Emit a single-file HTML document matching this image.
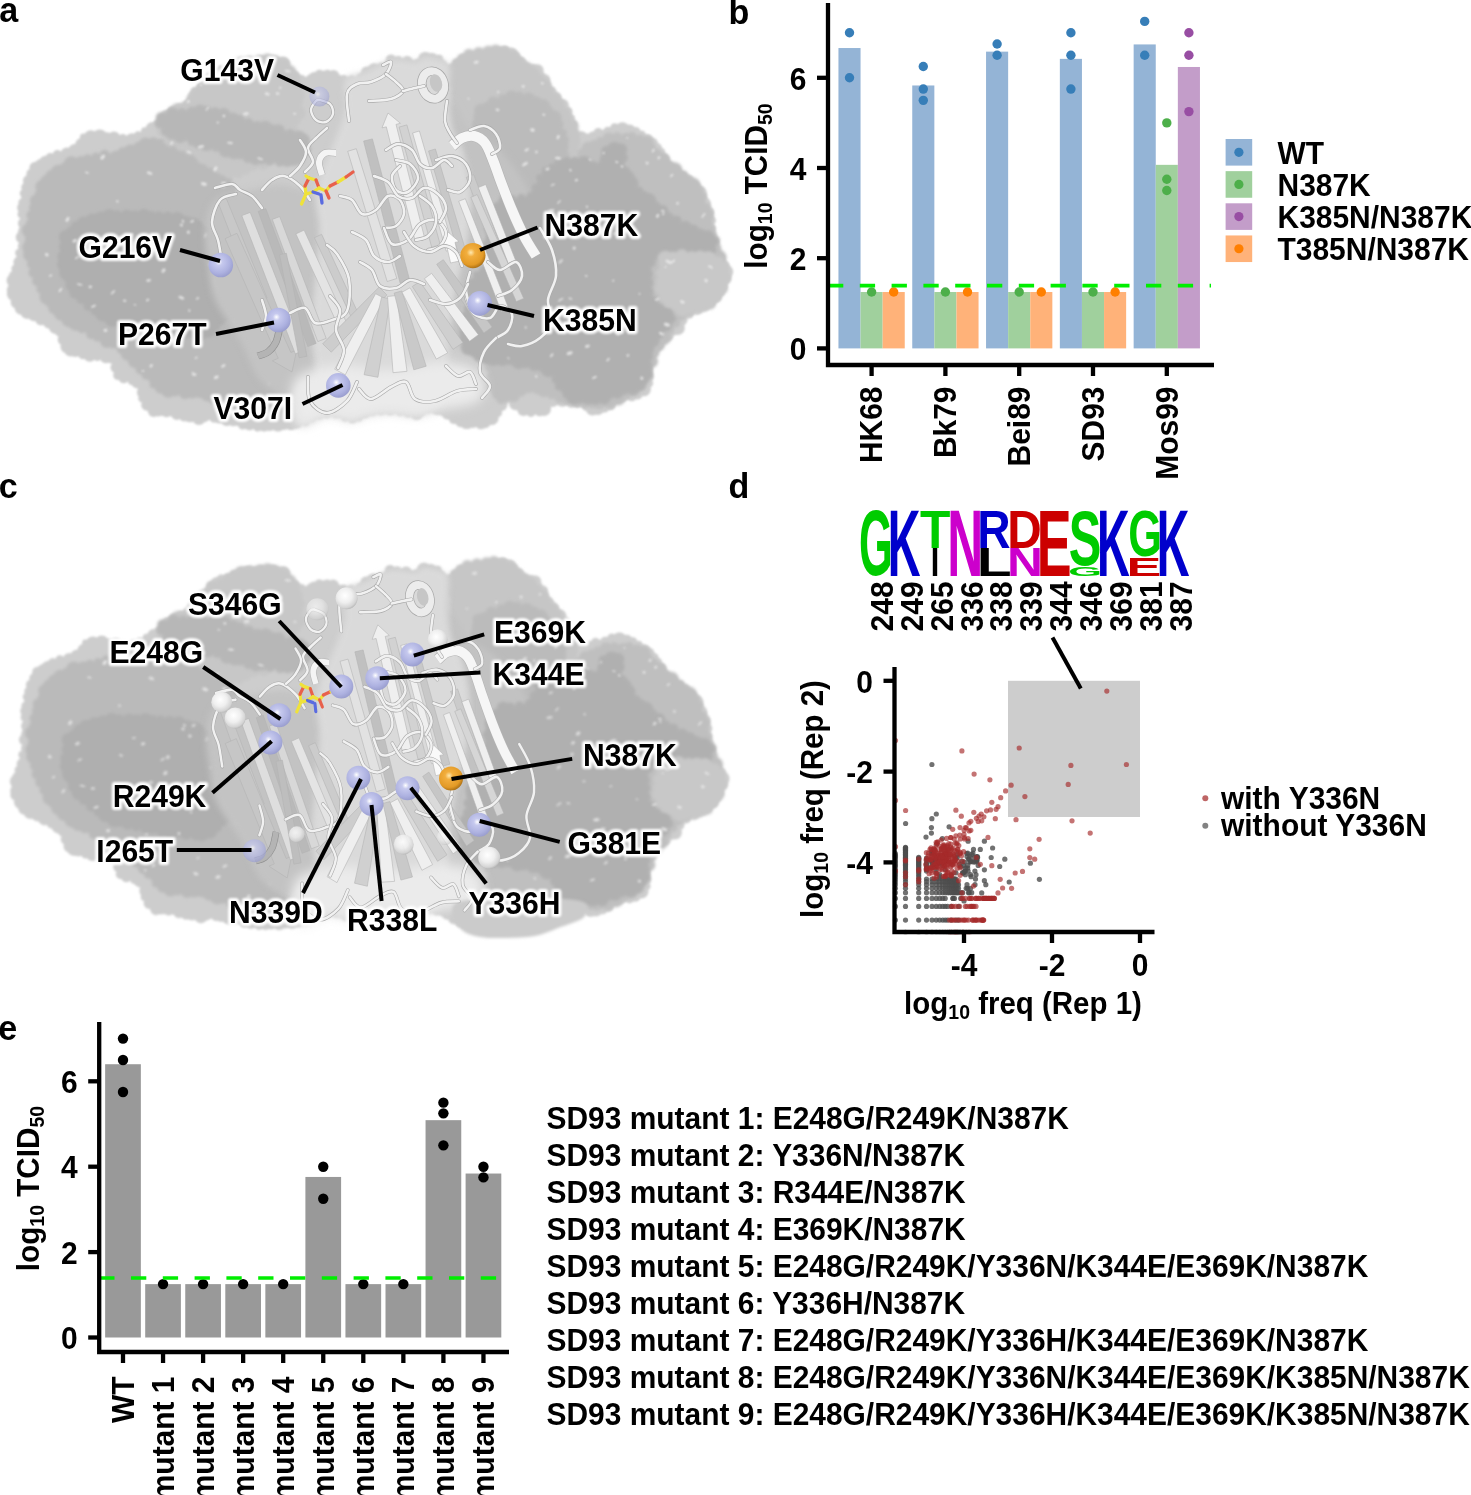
<!DOCTYPE html>
<html><head><meta charset="utf-8"><title>Figure</title>
<style>
html,body{margin:0;padding:0;background:#fff;}
svg{display:block;}
text{font-family:"Liberation Sans",sans-serif;font-weight:bold;fill:#000;}
</style></head><body>
<svg width="1471" height="1495" viewBox="0 0 1471 1495">
<rect width="1471" height="1495" fill="#fff"/>
<defs><filter id="b1" x="-5%" y="-5%" width="110%" height="110%"><feGaussianBlur stdDeviation="1.2"/></filter><filter id="b2" x="-10%" y="-10%" width="120%" height="120%"><feGaussianBlur stdDeviation="1.8"/></filter><filter id="b3" x="-10%" y="-10%" width="120%" height="120%"><feGaussianBlur stdDeviation="3"/></filter><filter id="b6" x="-15%" y="-15%" width="130%" height="130%"><feGaussianBlur stdDeviation="6"/></filter><filter id="glow" x="-20%" y="-40%" width="140%" height="180%"><feGaussianBlur stdDeviation="1.3"/></filter><radialGradient id="gP" cx="0.42" cy="0.38" r="0.65"><stop offset="0" stop-color="#ffffff"/><stop offset="0.22" stop-color="#c6c9ee"/><stop offset="0.7" stop-color="#adb1e0"/><stop offset="1" stop-color="#989ccd"/></radialGradient><radialGradient id="gO" cx="0.42" cy="0.38" r="0.65"><stop offset="0" stop-color="#ffe9b0"/><stop offset="0.25" stop-color="#f2ae3e"/><stop offset="0.75" stop-color="#e39a26"/><stop offset="1" stop-color="#a66c14"/></radialGradient><radialGradient id="gW" cx="0.42" cy="0.38" r="0.65"><stop offset="0" stop-color="#ffffff"/><stop offset="0.5" stop-color="#efefef"/><stop offset="0.85" stop-color="#d4d4d4"/><stop offset="1" stop-color="#b4b4b4"/></radialGradient><clipPath id="silclip"><rect x="0" y="30" width="740" height="420"/></clipPath><g id="surf"><g fill="#cdcdcd" filter="url(#b1)"><path d="M9.0,290.0C7.7,285.0 8.3,287.5 10.0,280.0C11.7,272.5 17.2,257.8 19.0,245.0C20.8,232.2 20.3,212.8 21.0,203.0C21.7,193.2 21.0,192.2 23.0,186.0C25.0,179.8 28.5,171.0 33.0,166.0C37.5,161.0 43.3,159.0 50.0,156.0C56.7,153.0 67.5,151.3 73.0,148.0C78.5,144.7 78.5,138.5 83.0,136.0C87.5,133.5 92.0,133.0 100.0,133.0C108.0,133.0 121.7,137.7 131.0,136.0C140.3,134.3 150.5,127.0 156.0,123.0C161.5,119.0 159.0,115.3 164.0,112.0C169.0,108.7 181.8,106.0 186.0,103.0C190.2,100.0 186.7,97.0 189.0,94.0C191.3,91.0 195.7,88.7 200.0,85.0C204.3,81.3 208.3,76.0 215.0,72.0C221.7,68.0 230.2,63.3 240.0,61.0C249.8,58.7 266.7,58.3 274.0,58.0C281.3,57.7 281.5,57.3 284.0,59.0C286.5,60.7 286.0,64.8 289.0,68.0C292.0,71.2 298.2,77.2 302.0,78.0C305.8,78.8 307.8,74.2 312.0,73.0C316.2,71.8 320.3,70.2 327.0,71.0C333.7,71.8 345.5,78.2 352.0,78.0C358.5,77.8 361.2,72.2 366.0,70.0C370.8,67.8 376.8,67.0 381.0,65.0C385.2,63.0 385.2,58.8 391.0,58.0C396.8,57.2 410.5,60.5 416.0,60.0C421.5,59.5 419.8,55.3 424.0,55.0C428.2,54.7 436.5,56.3 441.0,58.0C445.5,59.7 447.5,65.5 451.0,65.0C454.5,64.5 457.3,56.5 462.0,55.0C466.7,53.5 473.2,57.0 479.0,56.0C484.8,55.0 491.5,50.0 497.0,49.0C502.5,48.0 507.0,47.3 512.0,50.0C517.0,52.7 522.3,62.0 527.0,65.0C531.7,68.0 536.7,65.8 540.0,68.0C543.3,70.2 545.0,74.3 547.0,78.0C549.0,81.7 549.0,85.8 552.0,90.0C555.0,94.2 561.2,97.5 565.0,103.0C568.8,108.5 573.3,118.0 575.0,123.0C576.7,128.0 572.2,131.3 575.0,133.0C577.8,134.7 584.2,134.3 592.0,133.0C599.8,131.7 613.5,125.0 622.0,125.0C630.5,125.0 636.2,128.7 643.0,133.0C649.8,137.3 658.8,146.0 663.0,151.0C667.2,156.0 663.5,158.5 668.0,163.0C672.5,167.5 684.2,173.3 690.0,178.0C695.8,182.7 699.5,185.5 703.0,191.0C706.5,196.5 708.8,203.5 711.0,211.0C713.2,218.5 714.8,229.2 716.0,236.0C717.2,242.8 715.8,246.3 718.0,252.0C720.2,257.7 727.7,264.0 729.0,270.0C730.3,276.0 728.7,282.2 726.0,288.0C723.3,293.8 719.0,300.5 713.0,305.0C707.0,309.5 695.5,310.8 690.0,315.0C684.5,319.2 684.5,325.7 680.0,330.0C675.5,334.3 668.0,335.8 663.0,341.0C658.0,346.2 652.2,354.0 650.0,361.0C647.8,368.0 652.0,377.2 650.0,383.0C648.0,388.8 643.5,393.0 638.0,396.0C632.5,399.0 622.2,398.5 617.0,401.0C611.8,403.5 611.2,409.0 607.0,411.0C602.8,413.0 595.7,413.5 592.0,413.0C588.3,412.5 591.2,409.7 585.0,408.0C578.8,406.3 561.3,402.2 555.0,403.0C548.7,403.8 552.5,411.3 547.0,413.0C541.5,414.7 528.7,415.0 522.0,413.0C515.3,411.0 510.8,401.0 507.0,401.0C503.2,401.0 502.3,408.8 499.0,413.0C495.7,417.2 493.7,424.2 487.0,426.0C480.3,427.8 467.5,426.5 459.0,424.0C450.5,421.5 443.2,412.3 436.0,411.0C428.8,409.7 423.5,415.7 416.0,416.0C408.5,416.3 399.3,413.0 391.0,413.0C382.7,413.0 372.5,414.7 366.0,416.0C359.5,417.3 358.5,421.0 352.0,421.0C345.5,421.0 336.2,415.2 327.0,416.0C317.8,416.8 309.8,424.0 297.0,426.0C284.2,428.0 263.8,429.0 250.0,428.0C236.2,427.0 221.8,421.0 214.0,420.0C206.2,419.0 209.3,422.5 203.0,422.0C196.7,421.5 184.5,418.3 176.0,417.0C167.5,415.7 157.8,416.8 152.0,414.0C146.2,411.2 143.7,404.8 141.0,400.0C138.3,395.2 140.2,388.8 136.0,385.0C131.8,381.2 120.3,381.0 116.0,377.0C111.7,373.0 115.5,364.2 110.0,361.0C104.5,357.8 90.8,360.2 83.0,358.0C75.2,355.8 67.2,352.2 63.0,348.0C58.8,343.8 63.0,338.0 58.0,333.0C53.0,328.0 39.7,321.8 33.0,318.0C26.3,314.2 22.0,314.7 18.0,310.0C14.0,305.3 10.3,295.0 9.0,290.0Z"/><circle cx="12.1" cy="290.0" r="5.3"/><circle cx="13.8" cy="280.5" r="7.2"/><circle cx="14.5" cy="275.8" r="5.5"/><circle cx="15.6" cy="268.8" r="4.2"/><circle cx="19.4" cy="262.3" r="6.0"/><circle cx="19.1" cy="252.8" r="3.9"/><circle cx="21.8" cy="246.1" r="3.9"/><circle cx="22.1" cy="237.3" r="6.3"/><circle cx="25.4" cy="231.9" r="7.4"/><circle cx="24.1" cy="223.2" r="6.1"/><circle cx="21.7" cy="214.3" r="4.1"/><circle cx="22.8" cy="207.7" r="5.6"/><circle cx="22.7" cy="202.5" r="4.3"/><circle cx="23.4" cy="193.3" r="3.6"/><circle cx="26.6" cy="187.6" r="5.3"/><circle cx="28.6" cy="180.7" r="5.6"/><circle cx="31.9" cy="173.9" r="5.5"/><circle cx="34.7" cy="167.4" r="5.3"/><circle cx="41.4" cy="166.5" r="7.5"/><circle cx="45.8" cy="162.7" r="6.9"/><circle cx="50.3" cy="157.8" r="4.8"/><circle cx="57.4" cy="154.7" r="4.7"/><circle cx="67.0" cy="154.1" r="6.6"/><circle cx="75.0" cy="150.8" r="6.9"/><circle cx="82.3" cy="145.1" r="7.3"/><circle cx="83.4" cy="136.9" r="3.5"/><circle cx="90.8" cy="137.4" r="7.1"/><circle cx="99.7" cy="136.8" r="7.4"/><circle cx="106.9" cy="136.1" r="3.8"/><circle cx="113.9" cy="138.2" r="6.6"/><circle cx="122.8" cy="137.9" r="3.8"/><circle cx="132.3" cy="140.6" r="7.4"/><circle cx="138.3" cy="135.2" r="4.0"/><circle cx="144.9" cy="131.2" r="3.9"/><circle cx="152.4" cy="128.8" r="6.7"/><circle cx="158.1" cy="125.1" r="5.7"/><circle cx="162.6" cy="119.2" r="4.3"/><circle cx="165.7" cy="114.1" r="4.0"/><circle cx="171.6" cy="110.7" r="4.0"/><circle cx="179.9" cy="107.6" r="4.4"/><circle cx="189.9" cy="106.2" r="7.4"/><circle cx="192.2" cy="96.2" r="4.7"/><circle cx="195.0" cy="91.3" r="4.3"/><circle cx="202.8" cy="88.3" r="6.9"/><circle cx="207.0" cy="83.6" r="3.9"/><circle cx="210.1" cy="77.6" r="4.4"/><circle cx="216.6" cy="74.6" r="6.6"/><circle cx="220.5" cy="70.2" r="4.7"/><circle cx="227.4" cy="68.0" r="3.9"/><circle cx="234.0" cy="65.7" r="4.5"/><circle cx="240.5" cy="63.6" r="5.0"/><circle cx="247.1" cy="63.8" r="7.3"/><circle cx="255.3" cy="63.1" r="5.8"/><circle cx="261.0" cy="60.0" r="4.2"/><circle cx="269.5" cy="62.9" r="7.1"/><circle cx="273.1" cy="59.7" r="4.5"/><circle cx="283.1" cy="63.0" r="6.5"/><circle cx="288.2" cy="70.5" r="4.3"/><circle cx="293.1" cy="77.2" r="7.0"/><circle cx="301.2" cy="79.9" r="5.2"/><circle cx="313.9" cy="76.0" r="3.7"/><circle cx="319.4" cy="74.2" r="4.5"/><circle cx="327.5" cy="74.2" r="4.5"/><circle cx="333.5" cy="75.8" r="5.9"/><circle cx="344.0" cy="79.2" r="4.2"/><circle cx="351.6" cy="79.4" r="3.8"/><circle cx="362.0" cy="78.3" r="5.7"/><circle cx="367.0" cy="72.4" r="6.0"/><circle cx="374.3" cy="70.5" r="7.2"/><circle cx="381.4" cy="66.2" r="3.6"/><circle cx="391.0" cy="59.7" r="5.3"/><circle cx="398.3" cy="60.2" r="4.2"/><circle cx="407.2" cy="61.8" r="5.8"/><circle cx="417.7" cy="63.6" r="4.9"/><circle cx="425.4" cy="59.3" r="7.4"/><circle cx="432.0" cy="59.3" r="6.3"/><circle cx="438.9" cy="58.9" r="4.1"/><circle cx="451.7" cy="67.9" r="3.6"/><circle cx="459.5" cy="64.1" r="6.3"/><circle cx="463.0" cy="57.2" r="3.6"/><circle cx="470.4" cy="58.8" r="5.4"/><circle cx="480.6" cy="59.8" r="4.8"/><circle cx="489.0" cy="54.6" r="3.8"/><circle cx="498.9" cy="53.4" r="6.4"/><circle cx="504.9" cy="52.2" r="6.4"/><circle cx="511.3" cy="54.3" r="6.7"/><circle cx="515.6" cy="56.7" r="4.9"/><circle cx="520.2" cy="63.9" r="7.1"/><circle cx="526.3" cy="68.2" r="5.2"/><circle cx="533.3" cy="70.7" r="7.0"/><circle cx="537.6" cy="70.2" r="6.0"/><circle cx="544.5" cy="79.9" r="5.8"/><circle cx="547.5" cy="85.0" r="3.8"/><circle cx="549.6" cy="93.4" r="7.5"/><circle cx="555.4" cy="98.2" r="6.4"/><circle cx="562.4" cy="105.4" r="6.4"/><circle cx="567.2" cy="111.7" r="5.3"/><circle cx="571.2" cy="118.3" r="3.8"/><circle cx="573.3" cy="123.5" r="3.6"/><circle cx="571.8" cy="133.9" r="5.4"/><circle cx="581.6" cy="137.6" r="6.3"/><circle cx="593.6" cy="137.2" r="6.0"/><circle cx="598.3" cy="132.4" r="4.5"/><circle cx="608.0" cy="131.4" r="4.7"/><circle cx="614.6" cy="127.6" r="4.3"/><circle cx="622.4" cy="129.3" r="7.1"/><circle cx="629.9" cy="129.8" r="5.3"/><circle cx="635.6" cy="131.7" r="4.8"/><circle cx="641.5" cy="134.8" r="4.3"/><circle cx="647.1" cy="140.8" r="6.7"/><circle cx="651.1" cy="144.3" r="7.0"/><circle cx="656.3" cy="148.5" r="5.8"/><circle cx="661.1" cy="152.1" r="4.0"/><circle cx="662.7" cy="159.5" r="6.8"/><circle cx="666.3" cy="166.2" r="6.3"/><circle cx="670.3" cy="167.9" r="4.6"/><circle cx="676.4" cy="172.4" r="5.3"/><circle cx="683.2" cy="176.1" r="4.4"/><circle cx="688.0" cy="180.6" r="6.0"/><circle cx="696.3" cy="186.9" r="4.8"/><circle cx="699.5" cy="193.2" r="7.4"/><circle cx="703.1" cy="196.7" r="3.8"/><circle cx="704.0" cy="203.9" r="7.0"/><circle cx="707.8" cy="212.1" r="6.3"/><circle cx="711.2" cy="220.5" r="4.7"/><circle cx="711.9" cy="227.6" r="3.6"/><circle cx="712.0" cy="235.2" r="5.3"/><circle cx="712.3" cy="244.3" r="6.8"/><circle cx="714.8" cy="251.7" r="4.1"/><circle cx="718.6" cy="259.6" r="6.0"/><circle cx="723.6" cy="266.0" r="6.0"/><circle cx="726.5" cy="271.8" r="6.7"/><circle cx="724.9" cy="277.8" r="6.2"/><circle cx="722.5" cy="286.1" r="5.4"/><circle cx="721.1" cy="292.9" r="3.5"/><circle cx="715.1" cy="296.8" r="6.4"/><circle cx="711.2" cy="302.5" r="4.6"/><circle cx="704.3" cy="305.5" r="6.3"/><circle cx="696.5" cy="309.1" r="6.0"/><circle cx="688.9" cy="313.6" r="5.1"/><circle cx="680.4" cy="319.3" r="7.1"/><circle cx="677.6" cy="327.9" r="7.2"/><circle cx="673.5" cy="331.6" r="4.0"/><circle cx="667.9" cy="335.0" r="6.0"/><circle cx="661.3" cy="339.2" r="5.0"/><circle cx="655.5" cy="345.3" r="7.0"/><circle cx="649.6" cy="351.8" r="7.3"/><circle cx="646.0" cy="359.5" r="6.1"/><circle cx="646.7" cy="369.4" r="6.4"/><circle cx="647.6" cy="376.9" r="6.1"/><circle cx="648.7" cy="383.2" r="4.4"/><circle cx="643.5" cy="388.9" r="7.4"/><circle cx="637.2" cy="394.0" r="5.6"/><circle cx="631.7" cy="396.5" r="4.8"/><circle cx="622.4" cy="395.2" r="6.9"/><circle cx="615.8" cy="399.0" r="3.8"/><circle cx="610.1" cy="404.6" r="5.7"/><circle cx="604.4" cy="407.2" r="5.4"/><circle cx="597.8" cy="408.2" r="6.7"/><circle cx="592.4" cy="408.7" r="6.7"/><circle cx="586.9" cy="406.3" r="4.8"/><circle cx="578.3" cy="403.4" r="4.1"/><circle cx="571.2" cy="402.1" r="5.6"/><circle cx="562.3" cy="399.9" r="6.9"/><circle cx="552.7" cy="399.7" r="7.3"/><circle cx="543.7" cy="408.8" r="7.3"/><circle cx="539.4" cy="411.8" r="4.4"/><circle cx="530.9" cy="412.3" r="4.7"/><circle cx="523.5" cy="410.0" r="6.1"/><circle cx="515.9" cy="403.4" r="6.9"/><circle cx="506.9" cy="398.1" r="4.7"/><circle cx="500.6" cy="404.3" r="6.9"/><circle cx="497.8" cy="412.7" r="4.3"/><circle cx="491.3" cy="417.7" r="7.4"/><circle cx="484.9" cy="422.4" r="5.8"/><circle cx="480.9" cy="423.7" r="5.6"/><circle cx="472.8" cy="422.2" r="5.9"/><circle cx="466.8" cy="421.7" r="7.4"/><circle cx="460.6" cy="422.1" r="5.1"/><circle cx="454.4" cy="418.3" r="5.8"/><circle cx="447.9" cy="413.2" r="6.3"/><circle cx="442.7" cy="410.3" r="5.7"/><circle cx="437.5" cy="408.0" r="7.3"/><circle cx="428.6" cy="409.1" r="4.6"/><circle cx="422.1" cy="412.0" r="4.0"/><circle cx="416.7" cy="413.3" r="6.8"/><circle cx="408.0" cy="412.0" r="5.4"/><circle cx="400.1" cy="411.8" r="4.3"/><circle cx="390.2" cy="408.2" r="7.2"/><circle cx="380.8" cy="408.7" r="6.6"/><circle cx="372.5" cy="411.7" r="4.3"/><circle cx="364.6" cy="412.3" r="6.2"/><circle cx="358.4" cy="416.7" r="4.9"/><circle cx="352.5" cy="419.4" r="3.9"/><circle cx="345.2" cy="417.4" r="4.0"/><circle cx="335.9" cy="413.8" r="4.5"/><circle cx="326.7" cy="412.8" r="5.6"/><circle cx="319.2" cy="414.8" r="5.0"/><circle cx="311.4" cy="416.9" r="5.6"/><circle cx="305.4" cy="421.8" r="4.3"/><circle cx="296.4" cy="422.8" r="6.1"/><circle cx="290.9" cy="423.3" r="6.9"/><circle cx="283.5" cy="423.0" r="6.9"/><circle cx="278.0" cy="425.1" r="6.5"/><circle cx="269.7" cy="423.9" r="7.1"/><circle cx="264.1" cy="426.8" r="4.8"/><circle cx="257.6" cy="427.1" r="4.4"/><circle cx="249.5" cy="423.3" r="7.1"/><circle cx="242.7" cy="425.0" r="4.5"/><circle cx="233.2" cy="421.7" r="4.5"/><circle cx="226.9" cy="419.2" r="6.8"/><circle cx="219.4" cy="416.7" r="6.7"/><circle cx="214.3" cy="417.6" r="5.1"/><circle cx="202.1" cy="419.3" r="3.6"/><circle cx="198.9" cy="418.8" r="6.2"/><circle cx="190.2" cy="414.9" r="7.4"/><circle cx="184.1" cy="415.9" r="5.5"/><circle cx="176.8" cy="414.4" r="5.5"/><circle cx="166.4" cy="412.9" r="4.3"/><circle cx="158.1" cy="412.5" r="3.9"/><circle cx="153.6" cy="411.3" r="5.7"/><circle cx="147.0" cy="404.9" r="5.8"/><circle cx="142.5" cy="398.4" r="4.2"/><circle cx="143.8" cy="392.1" r="6.9"/><circle cx="138.0" cy="381.4" r="7.2"/><circle cx="131.7" cy="381.3" r="3.7"/><circle cx="123.8" cy="377.9" r="5.3"/><circle cx="118.0" cy="375.3" r="4.8"/><circle cx="116.1" cy="367.4" r="5.6"/><circle cx="111.2" cy="357.6" r="5.9"/><circle cx="105.9" cy="356.9" r="6.3"/><circle cx="97.4" cy="356.7" r="4.2"/><circle cx="89.8" cy="355.2" r="6.5"/><circle cx="82.8" cy="354.9" r="4.3"/><circle cx="75.3" cy="351.4" r="5.6"/><circle cx="71.0" cy="349.4" r="7.1"/><circle cx="66.8" cy="346.9" r="6.3"/><circle cx="63.7" cy="339.5" r="6.0"/><circle cx="60.7" cy="331.2" r="5.9"/><circle cx="55.9" cy="326.4" r="7.4"/><circle cx="48.3" cy="323.9" r="4.5"/><circle cx="41.4" cy="318.8" r="6.5"/><circle cx="34.4" cy="314.4" r="6.8"/><circle cx="27.2" cy="311.8" r="7.1"/><circle cx="21.1" cy="308.2" r="6.3"/><circle cx="17.2" cy="302.0" r="6.6"/><circle cx="13.3" cy="294.1" r="6.4"/></g><g clip-path="url(#silclip)"><g fill="#bababa" filter="url(#b2)" opacity="1"><path d="M30.0,215.0C32.8,202.5 36.7,189.2 45.0,180.0C53.3,170.8 65.8,165.0 80.0,160.0C94.2,155.0 116.7,153.3 130.0,150.0C143.3,146.7 148.3,140.0 160.0,140.0C171.7,140.0 188.3,143.3 200.0,150.0C211.7,156.7 224.2,169.2 230.0,180.0C235.8,190.8 237.5,205.0 235.0,215.0C232.5,225.0 219.2,229.2 215.0,240.0C210.8,250.8 208.3,270.0 210.0,280.0C211.7,290.0 218.3,291.7 225.0,300.0C231.7,308.3 242.5,320.0 250.0,330.0C257.5,340.0 263.3,350.0 270.0,360.0C276.7,370.0 288.3,381.7 290.0,390.0C291.7,398.3 290.0,407.5 280.0,410.0C270.0,412.5 243.3,407.5 230.0,405.0C216.7,402.5 211.7,397.5 200.0,395.0C188.3,392.5 170.0,394.2 160.0,390.0C150.0,385.8 146.7,376.7 140.0,370.0C133.3,363.3 128.3,355.8 120.0,350.0C111.7,344.2 100.0,340.8 90.0,335.0C80.0,329.2 68.3,322.5 60.0,315.0C51.7,307.5 45.3,300.0 40.0,290.0C34.7,280.0 29.7,267.5 28.0,255.0C26.3,242.5 27.2,227.5 30.0,215.0Z"/><circle cx="31.4" cy="215.2" r="5.0"/><circle cx="32.5" cy="207.4" r="3.5"/><circle cx="36.2" cy="200.8" r="6.4"/><circle cx="39.2" cy="194.3" r="4.5"/><circle cx="41.8" cy="186.6" r="6.5"/><circle cx="46.6" cy="181.5" r="6.5"/><circle cx="51.3" cy="176.0" r="5.9"/><circle cx="58.4" cy="172.8" r="8.0"/><circle cx="65.5" cy="169.0" r="6.7"/><circle cx="71.5" cy="164.2" r="7.9"/><circle cx="81.2" cy="162.4" r="6.3"/><circle cx="87.8" cy="158.9" r="4.7"/><circle cx="95.8" cy="156.3" r="3.7"/><circle cx="104.6" cy="154.9" r="5.2"/><circle cx="115.5" cy="155.3" r="4.6"/><circle cx="123.0" cy="153.3" r="6.0"/><circle cx="130.8" cy="152.4" r="7.9"/><circle cx="139.9" cy="149.6" r="8.0"/><circle cx="145.5" cy="144.7" r="7.1"/><circle cx="153.4" cy="143.5" r="6.2"/><circle cx="161.1" cy="142.1" r="3.7"/><circle cx="167.3" cy="141.6" r="4.2"/><circle cx="175.5" cy="142.8" r="4.3"/><circle cx="182.7" cy="144.3" r="6.3"/><circle cx="191.4" cy="148.4" r="7.8"/><circle cx="199.4" cy="151.8" r="5.9"/><circle cx="205.6" cy="155.4" r="5.1"/><circle cx="212.8" cy="161.9" r="6.4"/><circle cx="219.7" cy="168.2" r="4.8"/><circle cx="223.4" cy="173.0" r="4.8"/><circle cx="227.7" cy="179.5" r="4.6"/><circle cx="233.0" cy="189.6" r="4.2"/><circle cx="235.0" cy="199.0" r="5.3"/><circle cx="233.0" cy="205.7" r="6.9"/><circle cx="233.8" cy="215.3" r="7.9"/><circle cx="231.5" cy="221.9" r="3.8"/><circle cx="224.4" cy="226.0" r="5.4"/><circle cx="217.1" cy="230.8" r="7.9"/><circle cx="214.5" cy="240.3" r="5.9"/><circle cx="210.7" cy="246.8" r="6.8"/><circle cx="209.4" cy="256.3" r="7.9"/><circle cx="207.1" cy="263.6" r="6.2"/><circle cx="207.5" cy="273.0" r="6.3"/><circle cx="207.6" cy="279.2" r="4.4"/><circle cx="210.8" cy="287.8" r="5.9"/><circle cx="217.7" cy="294.9" r="5.5"/><circle cx="223.2" cy="300.5" r="5.5"/><circle cx="227.8" cy="306.4" r="6.1"/><circle cx="233.0" cy="312.7" r="7.0"/><circle cx="239.1" cy="320.2" r="8.0"/><circle cx="242.9" cy="324.5" r="6.8"/><circle cx="250.0" cy="331.7" r="4.0"/><circle cx="253.9" cy="339.0" r="7.0"/><circle cx="258.5" cy="345.3" r="5.1"/><circle cx="263.6" cy="353.7" r="6.6"/><circle cx="268.8" cy="361.4" r="6.2"/><circle cx="273.3" cy="368.2" r="6.9"/><circle cx="281.9" cy="377.6" r="4.6"/><circle cx="286.0" cy="385.2" r="7.6"/><circle cx="287.9" cy="389.1" r="3.7"/><circle cx="287.9" cy="401.4" r="4.7"/><circle cx="278.1" cy="407.4" r="6.3"/><circle cx="272.7" cy="407.9" r="5.9"/><circle cx="266.1" cy="409.6" r="3.9"/><circle cx="256.8" cy="407.9" r="6.0"/><circle cx="246.9" cy="406.4" r="5.2"/><circle cx="237.5" cy="404.7" r="4.4"/><circle cx="231.3" cy="403.8" r="6.9"/><circle cx="220.8" cy="400.7" r="3.8"/><circle cx="215.5" cy="398.3" r="7.1"/><circle cx="207.7" cy="394.6" r="7.0"/><circle cx="199.8" cy="392.8" r="5.4"/><circle cx="192.2" cy="391.5" r="7.1"/><circle cx="185.1" cy="392.6" r="6.4"/><circle cx="175.3" cy="391.5" r="5.0"/><circle cx="168.3" cy="390.9" r="6.9"/><circle cx="160.4" cy="388.2" r="5.4"/><circle cx="153.5" cy="384.5" r="3.9"/><circle cx="145.8" cy="375.5" r="3.9"/><circle cx="141.3" cy="368.8" r="6.0"/><circle cx="134.7" cy="361.3" r="6.6"/><circle cx="127.8" cy="353.8" r="7.0"/><circle cx="121.2" cy="349.3" r="4.5"/><circle cx="113.3" cy="344.5" r="3.9"/><circle cx="106.9" cy="341.1" r="6.8"/><circle cx="97.5" cy="336.8" r="4.8"/><circle cx="91.3" cy="334.2" r="5.1"/><circle cx="82.1" cy="328.2" r="5.1"/><circle cx="75.6" cy="324.1" r="6.7"/><circle cx="69.2" cy="319.7" r="7.6"/><circle cx="61.4" cy="313.1" r="7.6"/><circle cx="55.2" cy="307.4" r="7.1"/><circle cx="49.8" cy="302.3" r="4.9"/><circle cx="47.1" cy="296.7" r="7.7"/><circle cx="40.9" cy="289.0" r="4.6"/><circle cx="37.2" cy="281.1" r="5.1"/><circle cx="33.8" cy="272.6" r="5.3"/><circle cx="31.3" cy="264.2" r="4.4"/><circle cx="30.2" cy="254.8" r="7.1"/><circle cx="29.6" cy="247.3" r="7.3"/><circle cx="29.1" cy="239.8" r="4.3"/><circle cx="29.3" cy="230.5" r="7.5"/><circle cx="29.6" cy="223.0" r="3.6"/></g><g fill="#c7c7c7" filter="url(#b2)" opacity="1"><path d="M165.0,120.0C169.2,113.3 184.2,105.8 190.0,100.0C195.8,94.2 191.7,91.3 200.0,85.0C208.3,78.7 227.5,66.2 240.0,62.0C252.5,57.8 266.7,58.7 275.0,60.0C283.3,61.3 285.8,64.2 290.0,70.0C294.2,75.8 299.2,85.0 300.0,95.0C300.8,105.0 300.0,119.2 295.0,130.0C290.0,140.8 280.8,152.5 270.0,160.0C259.2,167.5 243.3,176.7 230.0,175.0C216.7,173.3 200.8,155.8 190.0,150.0C179.2,144.2 169.2,145.0 165.0,140.0C160.8,135.0 160.8,126.7 165.0,120.0Z"/><circle cx="166.8" cy="121.0" r="5.9"/><circle cx="171.8" cy="117.0" r="7.8"/><circle cx="177.1" cy="110.4" r="7.1"/><circle cx="186.0" cy="106.8" r="6.0"/><circle cx="189.9" cy="99.7" r="3.9"/><circle cx="196.7" cy="94.8" r="6.8"/><circle cx="201.2" cy="86.1" r="3.9"/><circle cx="206.3" cy="83.0" r="4.1"/><circle cx="211.7" cy="78.2" r="6.4"/><circle cx="219.8" cy="74.5" r="4.5"/><circle cx="227.4" cy="70.6" r="5.8"/><circle cx="233.5" cy="65.8" r="5.3"/><circle cx="241.1" cy="64.7" r="7.9"/><circle cx="249.9" cy="61.5" r="5.7"/><circle cx="259.6" cy="61.5" r="6.7"/><circle cx="267.4" cy="61.2" r="7.6"/><circle cx="274.9" cy="62.5" r="7.2"/><circle cx="283.6" cy="65.9" r="7.3"/><circle cx="289.2" cy="72.2" r="7.3"/><circle cx="292.5" cy="78.3" r="7.8"/><circle cx="296.8" cy="86.4" r="5.9"/><circle cx="297.7" cy="95.1" r="7.1"/><circle cx="297.8" cy="102.3" r="5.4"/><circle cx="298.8" cy="113.1" r="6.8"/><circle cx="295.7" cy="120.2" r="5.2"/><circle cx="293.6" cy="129.3" r="4.4"/><circle cx="291.4" cy="136.9" r="4.8"/><circle cx="285.8" cy="141.9" r="3.8"/><circle cx="281.5" cy="148.9" r="4.0"/><circle cx="274.1" cy="152.7" r="7.0"/><circle cx="269.2" cy="159.0" r="3.8"/><circle cx="263.0" cy="164.0" r="6.1"/><circle cx="253.7" cy="167.1" r="3.7"/><circle cx="245.6" cy="170.7" r="4.3"/><circle cx="238.6" cy="174.0" r="4.6"/><circle cx="229.6" cy="172.5" r="6.2"/><circle cx="223.1" cy="171.3" r="4.3"/><circle cx="217.4" cy="168.6" r="4.3"/><circle cx="210.1" cy="163.0" r="4.9"/><circle cx="203.5" cy="157.0" r="7.2"/><circle cx="197.5" cy="153.5" r="4.7"/><circle cx="190.6" cy="147.6" r="7.6"/><circle cx="181.3" cy="145.3" r="6.0"/><circle cx="170.9" cy="141.3" r="5.7"/><circle cx="167.0" cy="140.4" r="3.7"/><circle cx="163.7" cy="130.3" r="7.1"/></g><g fill="#b7b7b7" filter="url(#b2)" opacity="1"><path d="M160.0,117.0C165.8,113.2 186.7,108.8 200.0,109.0C213.3,109.2 226.7,114.5 240.0,118.0C253.3,121.5 269.2,126.3 280.0,130.0C290.8,133.7 301.7,135.0 305.0,140.0C308.3,145.0 307.2,156.3 300.0,160.0C292.8,163.7 274.5,163.3 262.0,162.0C249.5,160.7 237.0,155.3 225.0,152.0C213.0,148.7 200.0,145.3 190.0,142.0C180.0,138.7 170.0,136.2 165.0,132.0C160.0,127.8 154.2,120.8 160.0,117.0Z"/><circle cx="161.5" cy="118.0" r="5.9"/><circle cx="166.8" cy="117.2" r="4.7"/><circle cx="172.6" cy="113.7" r="6.5"/><circle cx="181.9" cy="111.6" r="3.5"/><circle cx="192.1" cy="111.7" r="5.2"/><circle cx="200.2" cy="111.3" r="6.7"/><circle cx="207.0" cy="110.1" r="4.2"/><circle cx="215.1" cy="112.1" r="4.9"/><circle cx="223.4" cy="115.5" r="7.4"/><circle cx="232.7" cy="118.8" r="6.4"/><circle cx="239.7" cy="119.4" r="4.7"/><circle cx="248.6" cy="122.1" r="4.2"/><circle cx="257.2" cy="124.5" r="3.5"/><circle cx="265.2" cy="128.1" r="7.3"/><circle cx="272.1" cy="128.2" r="3.9"/><circle cx="278.4" cy="131.0" r="6.7"/><circle cx="290.0" cy="134.7" r="5.7"/><circle cx="298.6" cy="138.3" r="7.8"/><circle cx="302.5" cy="140.5" r="7.4"/><circle cx="304.2" cy="149.8" r="7.1"/><circle cx="297.5" cy="157.4" r="7.6"/><circle cx="293.4" cy="158.9" r="7.2"/><circle cx="287.1" cy="161.0" r="5.9"/><circle cx="279.5" cy="162.5" r="4.2"/><circle cx="269.7" cy="160.7" r="4.9"/><circle cx="261.7" cy="160.4" r="3.8"/><circle cx="255.4" cy="159.6" r="5.6"/><circle cx="247.9" cy="157.8" r="5.1"/><circle cx="239.7" cy="155.2" r="4.0"/><circle cx="233.9" cy="153.7" r="5.6"/><circle cx="226.0" cy="150.3" r="7.2"/><circle cx="215.9" cy="148.2" r="3.6"/><circle cx="206.7" cy="144.4" r="6.7"/><circle cx="198.4" cy="142.7" r="6.0"/><circle cx="191.5" cy="142.2" r="3.5"/><circle cx="180.2" cy="136.1" r="7.1"/><circle cx="171.8" cy="133.5" r="6.3"/><circle cx="166.1" cy="130.9" r="5.2"/><circle cx="159.4" cy="123.5" r="4.8"/></g><g fill="#afafaf" filter="url(#b2)" opacity="1"><path d="M70.0,230.0C78.0,221.7 95.0,217.5 110.0,215.0C125.0,212.5 145.0,213.3 160.0,215.0C175.0,216.7 190.8,219.2 200.0,225.0C209.2,230.8 213.0,239.2 215.0,250.0C217.0,260.8 210.3,279.2 212.0,290.0C213.7,300.8 227.0,307.5 225.0,315.0C223.0,322.5 212.5,332.5 200.0,335.0C187.5,337.5 165.0,332.5 150.0,330.0C135.0,327.5 121.7,325.0 110.0,320.0C98.3,315.0 88.0,309.2 80.0,300.0C72.0,290.8 63.7,276.7 62.0,265.0C60.3,253.3 62.0,238.3 70.0,230.0Z"/><circle cx="71.6" cy="231.5" r="5.3"/><circle cx="75.8" cy="225.9" r="4.7"/><circle cx="83.6" cy="223.3" r="6.8"/><circle cx="92.5" cy="221.3" r="7.8"/><circle cx="100.9" cy="218.3" r="6.8"/><circle cx="109.4" cy="216.2" r="7.2"/><circle cx="117.0" cy="214.3" r="4.1"/><circle cx="126.9" cy="216.0" r="6.5"/><circle cx="134.8" cy="214.5" r="4.3"/><circle cx="143.8" cy="216.1" r="7.3"/><circle cx="151.4" cy="214.8" r="3.9"/><circle cx="159.0" cy="215.4" r="4.2"/><circle cx="167.8" cy="216.7" r="5.3"/><circle cx="177.3" cy="219.6" r="7.6"/><circle cx="186.2" cy="221.5" r="5.8"/><circle cx="193.7" cy="224.6" r="7.0"/><circle cx="198.7" cy="225.9" r="5.2"/><circle cx="205.1" cy="231.5" r="5.4"/><circle cx="211.3" cy="241.1" r="5.3"/><circle cx="213.4" cy="251.1" r="7.9"/><circle cx="213.6" cy="257.5" r="6.5"/><circle cx="212.9" cy="265.1" r="3.6"/><circle cx="211.8" cy="274.5" r="5.0"/><circle cx="210.4" cy="282.4" r="4.0"/><circle cx="211.0" cy="291.2" r="5.8"/><circle cx="215.0" cy="301.0" r="7.2"/><circle cx="222.4" cy="308.8" r="4.2"/><circle cx="222.9" cy="315.0" r="7.6"/><circle cx="220.8" cy="320.0" r="5.1"/><circle cx="216.2" cy="326.4" r="4.1"/><circle cx="207.9" cy="329.8" r="7.9"/><circle cx="200.3" cy="333.8" r="6.7"/><circle cx="194.0" cy="335.4" r="4.4"/><circle cx="184.2" cy="332.8" r="6.3"/><circle cx="175.5" cy="332.6" r="3.9"/><circle cx="167.6" cy="331.6" r="6.1"/><circle cx="159.3" cy="331.0" r="5.0"/><circle cx="150.2" cy="328.4" r="5.1"/><circle cx="142.6" cy="328.4" r="4.1"/><circle cx="134.0" cy="326.6" r="4.1"/><circle cx="125.4" cy="323.4" r="5.9"/><circle cx="117.2" cy="320.4" r="6.0"/><circle cx="112.1" cy="319.1" r="7.6"/><circle cx="102.7" cy="314.4" r="7.2"/><circle cx="95.1" cy="311.3" r="4.1"/><circle cx="88.3" cy="306.1" r="4.8"/><circle cx="81.2" cy="299.3" r="4.6"/><circle cx="76.2" cy="291.9" r="7.2"/><circle cx="71.2" cy="285.1" r="6.0"/><circle cx="67.0" cy="278.5" r="3.6"/><circle cx="67.1" cy="272.6" r="7.9"/><circle cx="63.5" cy="264.3" r="6.5"/><circle cx="63.9" cy="256.4" r="6.5"/><circle cx="64.1" cy="246.8" r="5.2"/><circle cx="65.9" cy="237.1" r="7.1"/></g><g fill="#c6c6c6" filter="url(#b2)" opacity="1"><path d="M455.0,62.0C462.0,53.7 485.0,49.3 497.0,50.0C509.0,50.7 518.2,59.3 527.0,66.0C535.8,72.7 542.3,80.2 550.0,90.0C557.7,99.8 568.8,113.3 573.0,125.0C577.2,136.7 577.2,147.5 575.0,160.0C572.8,172.5 565.8,188.3 560.0,200.0C554.2,211.7 546.7,230.0 540.0,230.0C533.3,230.0 526.7,213.3 520.0,200.0C513.3,186.7 508.3,161.7 500.0,150.0C491.7,138.3 477.5,138.3 470.0,130.0C462.5,121.7 457.5,111.3 455.0,100.0C452.5,88.7 448.0,70.3 455.0,62.0Z"/><circle cx="455.9" cy="62.8" r="4.4"/><circle cx="461.2" cy="58.3" r="4.1"/><circle cx="469.1" cy="54.9" r="6.1"/><circle cx="478.8" cy="52.7" r="5.8"/><circle cx="488.4" cy="51.6" r="6.1"/><circle cx="495.7" cy="50.8" r="6.4"/><circle cx="504.0" cy="52.8" r="6.5"/><circle cx="512.2" cy="58.0" r="7.8"/><circle cx="519.1" cy="61.9" r="5.6"/><circle cx="526.3" cy="67.9" r="6.3"/><circle cx="532.5" cy="73.3" r="6.9"/><circle cx="538.9" cy="79.2" r="5.7"/><circle cx="543.6" cy="85.3" r="7.3"/><circle cx="548.6" cy="90.8" r="5.3"/><circle cx="554.5" cy="98.4" r="6.0"/><circle cx="558.8" cy="104.3" r="5.9"/><circle cx="564.9" cy="112.3" r="5.4"/><circle cx="567.4" cy="117.4" r="4.9"/><circle cx="572.0" cy="126.6" r="6.8"/><circle cx="573.6" cy="134.3" r="6.8"/><circle cx="573.8" cy="141.8" r="6.9"/><circle cx="573.3" cy="149.7" r="6.2"/><circle cx="573.7" cy="159.7" r="4.1"/><circle cx="571.3" cy="167.1" r="5.8"/><circle cx="569.9" cy="176.2" r="3.7"/><circle cx="564.9" cy="183.2" r="5.9"/><circle cx="562.0" cy="191.7" r="4.9"/><circle cx="557.7" cy="198.4" r="4.6"/><circle cx="554.4" cy="209.7" r="7.6"/><circle cx="549.5" cy="219.3" r="6.5"/><circle cx="544.7" cy="226.6" r="5.4"/><circle cx="540.6" cy="229.2" r="4.5"/><circle cx="537.3" cy="226.9" r="6.1"/><circle cx="531.7" cy="220.1" r="3.9"/><circle cx="526.2" cy="209.9" r="4.1"/><circle cx="520.9" cy="197.8" r="7.8"/><circle cx="518.0" cy="192.7" r="4.6"/><circle cx="514.9" cy="184.8" r="5.0"/><circle cx="514.9" cy="178.4" r="7.5"/><circle cx="510.4" cy="169.5" r="5.3"/><circle cx="507.1" cy="160.9" r="6.1"/><circle cx="505.3" cy="156.2" r="3.6"/><circle cx="501.1" cy="149.1" r="4.9"/><circle cx="495.4" cy="142.4" r="7.7"/><circle cx="484.7" cy="136.5" r="5.6"/><circle cx="478.4" cy="134.8" r="4.8"/><circle cx="470.9" cy="127.7" r="7.5"/><circle cx="466.3" cy="121.8" r="7.3"/><circle cx="461.3" cy="114.6" r="5.6"/><circle cx="460.6" cy="108.7" r="7.5"/><circle cx="456.6" cy="100.0" r="4.4"/><circle cx="455.6" cy="93.2" r="4.4"/><circle cx="452.1" cy="83.0" r="3.7"/><circle cx="452.8" cy="75.3" r="6.8"/><circle cx="455.1" cy="69.5" r="7.6"/></g><g fill="#bbbbbb" filter="url(#b2)" opacity="1"><path d="M480.0,110.0C486.7,102.5 508.3,95.0 520.0,95.0C531.7,95.0 542.5,102.5 550.0,110.0C557.5,117.5 563.3,128.3 565.0,140.0C566.7,151.7 565.8,170.0 560.0,180.0C554.2,190.0 539.2,201.7 530.0,200.0C520.8,198.3 513.3,180.0 505.0,170.0C496.7,160.0 484.2,150.0 480.0,140.0C475.8,130.0 473.3,117.5 480.0,110.0Z"/><circle cx="480.7" cy="110.4" r="6.7"/><circle cx="487.7" cy="108.3" r="6.6"/><circle cx="493.2" cy="102.0" r="5.5"/><circle cx="502.7" cy="98.9" r="4.5"/><circle cx="511.6" cy="97.1" r="6.7"/><circle cx="519.3" cy="95.7" r="4.3"/><circle cx="528.7" cy="98.9" r="6.5"/><circle cx="536.2" cy="101.4" r="5.2"/><circle cx="542.6" cy="106.5" r="7.5"/><circle cx="548.6" cy="110.5" r="4.5"/><circle cx="553.8" cy="118.0" r="7.7"/><circle cx="558.8" cy="124.4" r="4.7"/><circle cx="563.1" cy="133.0" r="3.9"/><circle cx="563.4" cy="140.3" r="5.5"/><circle cx="562.8" cy="146.7" r="5.9"/><circle cx="563.3" cy="155.6" r="6.2"/><circle cx="564.1" cy="165.5" r="4.6"/><circle cx="561.3" cy="172.3" r="3.9"/><circle cx="557.6" cy="178.3" r="6.9"/><circle cx="553.2" cy="186.7" r="4.8"/><circle cx="546.5" cy="194.3" r="4.3"/><circle cx="535.8" cy="195.6" r="7.9"/><circle cx="530.8" cy="198.9" r="5.6"/><circle cx="526.7" cy="197.0" r="5.2"/><circle cx="520.2" cy="189.8" r="5.7"/><circle cx="516.6" cy="183.8" r="6.0"/><circle cx="511.6" cy="176.3" r="5.1"/><circle cx="506.7" cy="168.7" r="7.0"/><circle cx="501.7" cy="163.6" r="5.8"/><circle cx="495.3" cy="156.7" r="6.6"/><circle cx="489.2" cy="149.7" r="7.8"/><circle cx="484.3" cy="144.0" r="7.0"/><circle cx="481.1" cy="138.6" r="6.2"/><circle cx="479.6" cy="132.4" r="5.5"/><circle cx="478.7" cy="124.7" r="7.0"/><circle cx="477.9" cy="116.8" r="4.6"/></g><g fill="#bfbfbf" filter="url(#b2)" opacity="1"><path d="M540.0,215.0C542.5,197.5 550.0,187.5 560.0,175.0C570.0,162.5 586.7,146.3 600.0,140.0C613.3,133.7 629.2,133.7 640.0,137.0C650.8,140.3 655.0,151.2 665.0,160.0C675.0,168.8 692.2,178.3 700.0,190.0C707.8,201.7 708.3,217.5 712.0,230.0C715.7,242.5 721.5,254.2 722.0,265.0C722.5,275.8 720.3,287.2 715.0,295.0C709.7,302.8 698.3,304.8 690.0,312.0C681.7,319.2 671.7,328.3 665.0,338.0C658.3,347.7 655.0,361.0 650.0,370.0C645.0,379.0 643.3,386.2 635.0,392.0C626.7,397.8 612.5,403.7 600.0,405.0C587.5,406.3 571.7,402.5 560.0,400.0C548.3,397.5 540.0,390.0 530.0,390.0C520.0,390.0 506.7,405.0 500.0,400.0C493.3,395.0 486.7,371.7 490.0,360.0C493.3,348.3 510.8,343.3 520.0,330.0C529.2,316.7 541.7,299.2 545.0,280.0C548.3,260.8 537.5,232.5 540.0,215.0Z"/><circle cx="541.5" cy="215.4" r="4.5"/><circle cx="542.6" cy="204.7" r="5.7"/><circle cx="547.4" cy="198.2" r="6.2"/><circle cx="551.8" cy="191.3" r="6.1"/><circle cx="554.5" cy="182.2" r="4.3"/><circle cx="560.8" cy="175.7" r="3.6"/><circle cx="565.8" cy="170.4" r="5.5"/><circle cx="571.7" cy="165.4" r="4.7"/><circle cx="577.5" cy="159.8" r="3.8"/><circle cx="583.1" cy="154.0" r="6.1"/><circle cx="588.6" cy="148.6" r="7.1"/><circle cx="594.3" cy="143.9" r="4.2"/><circle cx="600.0" cy="140.6" r="3.7"/><circle cx="608.8" cy="138.8" r="6.3"/><circle cx="617.1" cy="136.9" r="4.7"/><circle cx="625.8" cy="136.7" r="3.9"/><circle cx="632.2" cy="136.1" r="4.3"/><circle cx="640.0" cy="138.6" r="4.2"/><circle cx="646.5" cy="143.2" r="7.2"/><circle cx="651.8" cy="147.0" r="3.8"/><circle cx="656.6" cy="153.5" r="5.1"/><circle cx="662.3" cy="160.6" r="7.9"/><circle cx="670.1" cy="166.5" r="5.7"/><circle cx="674.5" cy="170.2" r="7.9"/><circle cx="682.9" cy="175.8" r="5.5"/><circle cx="688.3" cy="179.2" r="3.7"/><circle cx="692.9" cy="185.0" r="7.5"/><circle cx="698.2" cy="190.4" r="5.3"/><circle cx="701.4" cy="197.1" r="5.4"/><circle cx="706.7" cy="207.0" r="3.7"/><circle cx="707.0" cy="214.9" r="6.9"/><circle cx="708.2" cy="221.9" r="4.5"/><circle cx="709.7" cy="229.9" r="6.0"/><circle cx="714.5" cy="240.8" r="5.6"/><circle cx="716.3" cy="248.2" r="5.1"/><circle cx="718.7" cy="257.5" r="7.9"/><circle cx="720.7" cy="264.8" r="3.7"/><circle cx="718.9" cy="271.9" r="6.4"/><circle cx="719.7" cy="281.3" r="5.0"/><circle cx="716.6" cy="287.9" r="7.4"/><circle cx="713.1" cy="293.6" r="7.5"/><circle cx="709.9" cy="299.5" r="5.3"/><circle cx="703.5" cy="303.1" r="5.2"/><circle cx="695.6" cy="305.9" r="4.5"/><circle cx="689.3" cy="311.1" r="4.3"/><circle cx="681.9" cy="316.1" r="4.2"/><circle cx="675.8" cy="323.0" r="4.5"/><circle cx="669.3" cy="329.8" r="4.9"/><circle cx="663.4" cy="337.1" r="8.0"/><circle cx="657.9" cy="344.1" r="7.4"/><circle cx="654.4" cy="352.6" r="5.2"/><circle cx="651.4" cy="361.4" r="6.6"/><circle cx="647.6" cy="368.2" r="4.7"/><circle cx="644.0" cy="377.2" r="4.3"/><circle cx="641.3" cy="385.7" r="5.3"/><circle cx="633.2" cy="389.9" r="6.7"/><circle cx="626.2" cy="394.1" r="5.1"/><circle cx="617.9" cy="397.7" r="7.7"/><circle cx="609.6" cy="401.7" r="6.9"/><circle cx="598.6" cy="401.6" r="7.6"/><circle cx="591.9" cy="403.5" r="4.9"/><circle cx="584.9" cy="404.3" r="3.9"/><circle cx="576.4" cy="402.4" r="5.0"/><circle cx="566.7" cy="398.8" r="5.8"/><circle cx="559.8" cy="397.8" r="5.3"/><circle cx="551.4" cy="395.5" r="3.7"/><circle cx="544.0" cy="391.2" r="6.2"/><circle cx="537.5" cy="389.6" r="4.9"/><circle cx="529.0" cy="387.3" r="5.9"/><circle cx="520.7" cy="389.8" r="6.7"/><circle cx="513.2" cy="395.5" r="6.8"/><circle cx="505.1" cy="398.6" r="4.2"/><circle cx="501.2" cy="399.3" r="4.8"/><circle cx="497.2" cy="394.0" r="5.3"/><circle cx="494.1" cy="385.7" r="7.4"/><circle cx="491.2" cy="377.0" r="4.8"/><circle cx="489.4" cy="367.0" r="4.5"/><circle cx="491.3" cy="360.6" r="3.6"/><circle cx="495.7" cy="355.6" r="6.0"/><circle cx="500.4" cy="349.6" r="7.9"/><circle cx="508.6" cy="345.5" r="6.5"/><circle cx="515.1" cy="338.5" r="4.5"/><circle cx="522.6" cy="332.3" r="6.5"/><circle cx="525.3" cy="324.6" r="7.4"/><circle cx="529.0" cy="317.7" r="6.3"/><circle cx="533.8" cy="311.3" r="5.4"/><circle cx="535.4" cy="302.7" r="3.8"/><circle cx="541.6" cy="296.5" r="5.0"/><circle cx="543.6" cy="287.7" r="4.8"/><circle cx="546.5" cy="280.2" r="5.3"/><circle cx="547.3" cy="272.8" r="4.3"/><circle cx="545.7" cy="263.1" r="4.6"/><circle cx="545.5" cy="255.2" r="5.0"/><circle cx="544.2" cy="246.9" r="4.2"/><circle cx="543.5" cy="238.0" r="6.7"/><circle cx="541.0" cy="228.5" r="6.7"/><circle cx="540.9" cy="221.7" r="5.3"/></g><g fill="#c2c2c2" filter="url(#b3)" opacity="1"><path d="M452.0,100.0C455.0,100.0 462.0,121.7 470.0,130.0C478.0,138.3 490.0,139.2 500.0,150.0C510.0,160.8 529.2,186.7 530.0,195.0C530.8,203.3 511.7,196.7 505.0,200.0C498.3,203.3 493.2,205.0 490.0,215.0C486.8,225.0 489.0,248.3 486.0,260.0C483.0,271.7 475.7,271.7 472.0,285.0C468.3,298.3 466.8,330.0 464.0,340.0C461.2,350.0 457.3,346.7 455.0,345.0C452.7,343.3 450.0,339.2 450.0,330.0C450.0,320.8 453.0,301.7 455.0,290.0C457.0,278.3 459.8,270.0 462.0,260.0C464.2,250.0 466.7,241.7 468.0,230.0C469.3,218.3 471.0,203.3 470.0,190.0C469.0,176.7 465.0,160.0 462.0,150.0C459.0,140.0 453.7,138.3 452.0,130.0C450.3,121.7 449.0,100.0 452.0,100.0Z"/></g><g fill="#b0b0b0" filter="url(#b2)" opacity="1"><path d="M545.0,170.0C552.5,164.2 565.8,160.8 575.0,160.0C584.2,159.2 595.0,166.7 600.0,165.0C605.0,163.3 601.3,152.8 605.0,150.0C608.7,147.2 618.5,144.7 622.0,148.0C625.5,151.3 623.0,163.0 626.0,170.0C629.0,177.0 632.7,182.5 640.0,190.0C647.3,197.5 660.0,208.0 670.0,215.0C680.0,222.0 692.7,227.8 700.0,232.0C707.3,236.2 712.0,237.0 714.0,240.0C716.0,243.0 716.0,248.0 712.0,250.0C708.0,252.0 698.7,251.2 690.0,252.0C681.3,252.8 666.7,251.2 660.0,255.0C653.3,258.8 650.8,267.5 650.0,275.0C649.2,282.5 651.3,292.8 655.0,300.0C658.7,307.2 671.2,312.2 672.0,318.0C672.8,323.8 663.7,329.7 660.0,335.0C656.3,340.3 652.5,342.5 650.0,350.0C647.5,357.5 649.2,373.0 645.0,380.0C640.8,387.0 633.2,388.7 625.0,392.0C616.8,395.3 606.0,399.5 596.0,400.0C586.0,400.5 573.0,399.7 565.0,395.0C557.0,390.3 557.2,377.5 548.0,372.0C538.8,366.5 521.3,364.3 510.0,362.0C498.7,359.7 487.7,361.7 480.0,358.0C472.3,354.3 465.3,352.2 464.0,340.0C462.7,327.8 468.3,298.3 472.0,285.0C475.7,271.7 483.0,271.7 486.0,260.0C489.0,248.3 486.8,225.0 490.0,215.0C493.2,205.0 498.3,203.3 505.0,200.0C511.7,196.7 523.3,200.0 530.0,195.0C536.7,190.0 537.5,175.8 545.0,170.0Z"/><circle cx="545.6" cy="170.6" r="3.8"/><circle cx="552.0" cy="167.1" r="3.7"/><circle cx="559.9" cy="164.8" r="6.1"/><circle cx="567.2" cy="162.0" r="5.0"/><circle cx="574.6" cy="160.7" r="3.6"/><circle cx="584.1" cy="163.6" r="7.5"/><circle cx="593.4" cy="166.0" r="4.7"/><circle cx="600.6" cy="166.0" r="4.3"/><circle cx="605.9" cy="159.6" r="6.3"/><circle cx="606.3" cy="151.2" r="5.1"/><circle cx="614.5" cy="149.6" r="7.7"/><circle cx="620.9" cy="149.6" r="6.3"/><circle cx="622.4" cy="157.7" r="5.3"/><circle cx="625.4" cy="171.2" r="4.7"/><circle cx="627.1" cy="177.5" r="7.5"/><circle cx="630.9" cy="183.3" r="7.6"/><circle cx="639.1" cy="190.9" r="4.1"/><circle cx="643.6" cy="195.6" r="4.9"/><circle cx="648.5" cy="201.0" r="7.9"/><circle cx="655.8" cy="205.7" r="4.4"/><circle cx="661.9" cy="211.4" r="6.6"/><circle cx="669.5" cy="216.0" r="3.5"/><circle cx="676.4" cy="220.8" r="5.3"/><circle cx="685.5" cy="226.4" r="5.7"/><circle cx="693.1" cy="230.4" r="6.0"/><circle cx="700.0" cy="234.4" r="6.0"/><circle cx="707.4" cy="238.1" r="7.9"/><circle cx="713.4" cy="241.3" r="5.1"/><circle cx="711.5" cy="249.5" r="4.9"/><circle cx="703.0" cy="249.9" r="6.6"/><circle cx="690.7" cy="250.4" r="7.8"/><circle cx="682.9" cy="251.3" r="4.2"/><circle cx="674.3" cy="250.8" r="5.7"/><circle cx="665.5" cy="251.0" r="5.2"/><circle cx="658.8" cy="253.5" r="6.9"/><circle cx="651.0" cy="262.4" r="4.6"/><circle cx="647.8" cy="274.0" r="5.0"/><circle cx="647.5" cy="282.5" r="5.8"/><circle cx="649.8" cy="291.3" r="3.8"/><circle cx="654.5" cy="301.1" r="4.0"/><circle cx="659.9" cy="307.3" r="4.0"/><circle cx="666.5" cy="313.7" r="7.0"/><circle cx="671.6" cy="318.8" r="4.2"/><circle cx="664.8" cy="324.3" r="7.4"/><circle cx="659.0" cy="334.1" r="4.6"/><circle cx="652.5" cy="340.3" r="7.1"/><circle cx="647.5" cy="348.7" r="6.7"/><circle cx="646.3" cy="356.2" r="6.7"/><circle cx="647.3" cy="365.7" r="5.0"/><circle cx="645.8" cy="373.8" r="7.3"/><circle cx="643.3" cy="378.9" r="6.1"/><circle cx="638.9" cy="384.2" r="6.7"/><circle cx="632.7" cy="387.7" r="7.2"/><circle cx="624.3" cy="390.6" r="4.1"/><circle cx="617.1" cy="392.1" r="6.5"/><circle cx="609.6" cy="394.7" r="4.3"/><circle cx="604.3" cy="398.3" r="6.1"/><circle cx="595.0" cy="396.8" r="7.9"/><circle cx="587.9" cy="397.9" r="6.6"/><circle cx="579.8" cy="397.3" r="6.3"/><circle cx="573.7" cy="396.8" r="7.7"/><circle cx="566.2" cy="394.6" r="3.7"/><circle cx="559.0" cy="386.4" r="4.0"/><circle cx="556.4" cy="379.1" r="4.8"/><circle cx="548.6" cy="369.2" r="8.0"/><circle cx="541.0" cy="366.5" r="5.0"/><circle cx="534.3" cy="365.0" r="5.9"/><circle cx="525.5" cy="363.0" r="5.2"/><circle cx="518.6" cy="362.1" r="7.1"/><circle cx="510.0" cy="360.3" r="4.8"/><circle cx="502.4" cy="359.7" r="6.3"/><circle cx="493.5" cy="357.9" r="7.9"/><circle cx="486.8" cy="358.0" r="6.6"/><circle cx="479.9" cy="355.2" r="7.1"/><circle cx="472.5" cy="352.4" r="4.3"/><circle cx="468.4" cy="347.5" r="7.7"/><circle cx="464.8" cy="338.7" r="5.7"/><circle cx="464.2" cy="332.7" r="5.0"/><circle cx="465.3" cy="325.4" r="6.0"/><circle cx="466.8" cy="317.2" r="6.3"/><circle cx="468.2" cy="308.6" r="4.5"/><circle cx="469.5" cy="299.3" r="5.1"/><circle cx="470.4" cy="290.8" r="3.7"/><circle cx="473.6" cy="285.3" r="7.5"/><circle cx="476.8" cy="275.0" r="3.9"/><circle cx="484.5" cy="270.8" r="5.7"/><circle cx="488.1" cy="261.3" r="4.4"/><circle cx="488.6" cy="253.3" r="5.7"/><circle cx="489.6" cy="245.2" r="7.1"/><circle cx="489.2" cy="237.0" r="3.8"/><circle cx="490.5" cy="228.9" r="6.5"/><circle cx="491.3" cy="222.2" r="4.7"/><circle cx="493.2" cy="217.1" r="7.4"/><circle cx="498.2" cy="207.0" r="5.5"/><circle cx="505.0" cy="201.1" r="6.8"/><circle cx="512.3" cy="198.6" r="3.6"/><circle cx="521.2" cy="197.9" r="4.0"/><circle cx="531.5" cy="196.8" r="5.1"/><circle cx="536.5" cy="188.3" r="4.9"/><circle cx="539.5" cy="177.8" r="3.5"/></g><g fill="#c8c8c8" filter="url(#b2)" opacity="1"><path d="M665.0,258.0C671.7,252.2 690.0,253.3 700.0,255.0C710.0,256.7 721.0,262.2 725.0,268.0C729.0,273.8 726.5,284.0 724.0,290.0C721.5,296.0 715.7,300.3 710.0,304.0C704.3,307.7 695.8,311.3 690.0,312.0C684.2,312.7 680.0,311.7 675.0,308.0C670.0,304.3 661.7,298.3 660.0,290.0C658.3,281.7 658.3,263.8 665.0,258.0Z"/><circle cx="665.4" cy="258.6" r="7.8"/><circle cx="673.1" cy="257.3" r="5.9"/><circle cx="681.9" cy="256.4" r="7.1"/><circle cx="691.9" cy="256.3" r="5.3"/><circle cx="700.2" cy="257.8" r="7.2"/><circle cx="708.2" cy="259.1" r="7.9"/><circle cx="717.4" cy="264.1" r="7.8"/><circle cx="722.6" cy="268.3" r="6.7"/><circle cx="723.5" cy="277.7" r="7.6"/><circle cx="721.7" cy="288.6" r="6.1"/><circle cx="716.8" cy="296.4" r="5.2"/><circle cx="709.7" cy="303.1" r="6.5"/><circle cx="699.8" cy="308.0" r="5.1"/><circle cx="689.3" cy="310.0" r="5.1"/><circle cx="682.3" cy="309.0" r="7.6"/><circle cx="675.2" cy="306.6" r="3.9"/><circle cx="669.9" cy="301.3" r="6.8"/><circle cx="665.3" cy="296.5" r="6.8"/><circle cx="661.1" cy="288.7" r="6.6"/><circle cx="659.5" cy="281.4" r="4.0"/><circle cx="660.7" cy="273.1" r="5.1"/><circle cx="662.2" cy="264.7" r="3.5"/></g><g fill="#ececec" opacity="0.8" filter="url(#b1)"><ellipse cx="90.3" cy="286.9" rx="1.9" ry="1.4" transform="rotate(-4 90.3 286.9)"/><ellipse cx="151.2" cy="365.8" rx="2.1" ry="1.4" transform="rotate(-46 151.2 365.8)"/><ellipse cx="194.3" cy="374.4" rx="2.3" ry="1.5" transform="rotate(0 194.3 374.4)"/><ellipse cx="182.9" cy="221.3" rx="1.1" ry="1.7" transform="rotate(-17 182.9 221.3)"/><ellipse cx="216.3" cy="377.3" rx="2.7" ry="1.7" transform="rotate(-24 216.3 377.3)"/><ellipse cx="273.1" cy="377.3" rx="1.2" ry="0.9" transform="rotate(-40 273.1 377.3)"/><ellipse cx="192.2" cy="221.3" rx="2.2" ry="1.2" transform="rotate(-28 192.2 221.3)"/><ellipse cx="181.3" cy="297.7" rx="3.2" ry="1.5" transform="rotate(24 181.3 297.7)"/><ellipse cx="203.9" cy="184.0" rx="3.1" ry="1.8" transform="rotate(21 203.9 184.0)"/><ellipse cx="177.1" cy="332.7" rx="1.5" ry="1.6" transform="rotate(-8 177.1 332.7)"/><ellipse cx="102.7" cy="157.1" rx="3.0" ry="1.8" transform="rotate(-52 102.7 157.1)"/><ellipse cx="67.5" cy="219.4" rx="2.8" ry="1.7" transform="rotate(-56 67.5 219.4)"/><ellipse cx="189.0" cy="152.1" rx="2.7" ry="1.1" transform="rotate(19 189.0 152.1)"/><ellipse cx="134.9" cy="304.8" rx="1.4" ry="0.8" transform="rotate(18 134.9 304.8)"/><ellipse cx="148.6" cy="280.4" rx="2.5" ry="1.4" transform="rotate(-10 148.6 280.4)"/><ellipse cx="160.8" cy="256.4" rx="2.7" ry="1.0" transform="rotate(-33 160.8 256.4)"/><ellipse cx="171.7" cy="143.1" rx="2.0" ry="1.4" transform="rotate(-58 171.7 143.1)"/><ellipse cx="189.3" cy="310.7" rx="1.1" ry="1.4" transform="rotate(-18 189.3 310.7)"/><ellipse cx="206.0" cy="235.2" rx="2.7" ry="1.5" transform="rotate(-58 206.0 235.2)"/><ellipse cx="147.6" cy="300.0" rx="1.8" ry="1.2" transform="rotate(-32 147.6 300.0)"/><ellipse cx="124.7" cy="300.8" rx="1.7" ry="1.2" transform="rotate(10 124.7 300.8)"/><ellipse cx="220.6" cy="223.7" rx="1.5" ry="1.6" transform="rotate(-39 220.6 223.7)"/><ellipse cx="77.1" cy="257.5" rx="2.7" ry="0.9" transform="rotate(-31 77.1 257.5)"/><ellipse cx="142.9" cy="371.0" rx="1.4" ry="1.1" transform="rotate(-1 142.9 371.0)"/><ellipse cx="87.0" cy="172.6" rx="2.3" ry="1.0" transform="rotate(13 87.0 172.6)"/><ellipse cx="196.2" cy="357.7" rx="1.8" ry="0.9" transform="rotate(-34 196.2 357.7)"/><ellipse cx="118.7" cy="252.6" rx="2.0" ry="1.2" transform="rotate(23 118.7 252.6)"/><ellipse cx="275.1" cy="377.6" rx="3.4" ry="1.2" transform="rotate(26 275.1 377.6)"/><ellipse cx="223.3" cy="365.9" rx="2.6" ry="1.3" transform="rotate(-34 223.3 365.9)"/><ellipse cx="117.4" cy="201.4" rx="1.2" ry="1.4" transform="rotate(-34 117.4 201.4)"/><ellipse cx="270.0" cy="382.1" rx="3.2" ry="1.4" transform="rotate(-59 270.0 382.1)"/><ellipse cx="223.3" cy="186.4" rx="1.7" ry="1.5" transform="rotate(-13 223.3 186.4)"/><ellipse cx="188.4" cy="232.2" rx="1.6" ry="1.7" transform="rotate(-17 188.4 232.2)"/><ellipse cx="79.7" cy="284.4" rx="3.0" ry="1.0" transform="rotate(11 79.7 284.4)"/><ellipse cx="192.7" cy="372.9" rx="1.1" ry="1.1" transform="rotate(-36 192.7 372.9)"/><ellipse cx="166.1" cy="254.2" rx="2.1" ry="1.6" transform="rotate(-60 166.1 254.2)"/><ellipse cx="50.6" cy="275.6" rx="1.8" ry="1.1" transform="rotate(-28 50.6 275.6)"/><ellipse cx="197.5" cy="298.4" rx="1.9" ry="1.0" transform="rotate(-30 197.5 298.4)"/><ellipse cx="60.4" cy="290.0" rx="2.7" ry="1.2" transform="rotate(-53 60.4 290.0)"/><ellipse cx="74.8" cy="240.8" rx="2.5" ry="1.6" transform="rotate(-26 74.8 240.8)"/><ellipse cx="141.1" cy="240.6" rx="2.2" ry="1.5" transform="rotate(-22 141.1 240.6)"/><ellipse cx="209.9" cy="264.4" rx="1.6" ry="1.3" transform="rotate(3 209.9 264.4)"/><ellipse cx="46.8" cy="254.7" rx="2.0" ry="1.7" transform="rotate(24 46.8 254.7)"/><ellipse cx="149.6" cy="173.2" rx="3.0" ry="1.5" transform="rotate(20 149.6 173.2)"/><ellipse cx="235.6" cy="320.2" rx="2.8" ry="1.4" transform="rotate(-51 235.6 320.2)"/><ellipse cx="247.1" cy="397.2" rx="2.4" ry="1.6" transform="rotate(-57 247.1 397.2)"/><ellipse cx="215.4" cy="168.8" rx="2.8" ry="1.7" transform="rotate(-54 215.4 168.8)"/><ellipse cx="113.0" cy="292.3" rx="3.0" ry="1.0" transform="rotate(-44 113.0 292.3)"/><ellipse cx="93.5" cy="306.3" rx="2.8" ry="1.2" transform="rotate(-27 93.5 306.3)"/><ellipse cx="131.9" cy="234.6" rx="2.0" ry="0.9" transform="rotate(-15 131.9 234.6)"/><ellipse cx="223.8" cy="183.4" rx="2.7" ry="1.6" transform="rotate(1 223.8 183.4)"/><ellipse cx="163.5" cy="270.6" rx="2.5" ry="1.7" transform="rotate(-47 163.5 270.6)"/><ellipse cx="144.1" cy="334.1" rx="1.4" ry="1.1" transform="rotate(-42 144.1 334.1)"/><ellipse cx="181.4" cy="225.0" rx="1.6" ry="1.5" transform="rotate(26 181.4 225.0)"/><ellipse cx="105.5" cy="330.4" rx="2.0" ry="1.7" transform="rotate(-7 105.5 330.4)"/><ellipse cx="201.1" cy="85.0" rx="1.1" ry="1.3" transform="rotate(-26 201.1 85.0)"/><ellipse cx="188.3" cy="101.5" rx="1.8" ry="1.6" transform="rotate(-47 188.3 101.5)"/><ellipse cx="245.9" cy="113.8" rx="3.0" ry="1.6" transform="rotate(-10 245.9 113.8)"/><ellipse cx="230.0" cy="142.9" rx="3.1" ry="1.2" transform="rotate(6 230.0 142.9)"/><ellipse cx="294.6" cy="113.8" rx="1.6" ry="1.0" transform="rotate(5 294.6 113.8)"/><ellipse cx="280.3" cy="87.8" rx="1.5" ry="1.1" transform="rotate(-43 280.3 87.8)"/><ellipse cx="260.1" cy="158.7" rx="3.2" ry="1.1" transform="rotate(18 260.1 158.7)"/><ellipse cx="207.3" cy="108.7" rx="2.7" ry="0.9" transform="rotate(-52 207.3 108.7)"/><ellipse cx="277.6" cy="93.6" rx="1.9" ry="1.4" transform="rotate(1 277.6 93.6)"/><ellipse cx="223.9" cy="115.9" rx="1.5" ry="1.4" transform="rotate(26 223.9 115.9)"/><ellipse cx="217.8" cy="122.6" rx="1.3" ry="1.1" transform="rotate(-0 217.8 122.6)"/><ellipse cx="287.7" cy="71.1" rx="3.3" ry="1.2" transform="rotate(10 287.7 71.1)"/><ellipse cx="267.2" cy="94.0" rx="2.6" ry="1.5" transform="rotate(13 267.2 94.0)"/><ellipse cx="200.9" cy="146.7" rx="3.3" ry="1.5" transform="rotate(-12 200.9 146.7)"/><ellipse cx="536.4" cy="152.0" rx="1.4" ry="1.4" transform="rotate(-3 536.4 152.0)"/><ellipse cx="526.7" cy="149.9" rx="2.6" ry="1.3" transform="rotate(-32 526.7 149.9)"/><ellipse cx="476.2" cy="62.3" rx="2.7" ry="1.6" transform="rotate(-11 476.2 62.3)"/><ellipse cx="543.8" cy="114.7" rx="1.6" ry="1.2" transform="rotate(19 543.8 114.7)"/><ellipse cx="497.5" cy="109.9" rx="2.0" ry="1.3" transform="rotate(9 497.5 109.9)"/><ellipse cx="468.5" cy="98.7" rx="1.2" ry="0.9" transform="rotate(10 468.5 98.7)"/><ellipse cx="542.3" cy="83.3" rx="1.5" ry="1.2" transform="rotate(7 542.3 83.3)"/><ellipse cx="552.9" cy="184.8" rx="2.4" ry="0.9" transform="rotate(-24 552.9 184.8)"/><ellipse cx="523.2" cy="86.4" rx="1.6" ry="1.6" transform="rotate(-57 523.2 86.4)"/><ellipse cx="551.4" cy="210.4" rx="3.3" ry="1.2" transform="rotate(-10 551.4 210.4)"/><ellipse cx="525.0" cy="164.1" rx="3.3" ry="1.5" transform="rotate(-33 525.0 164.1)"/><ellipse cx="558.2" cy="137.1" rx="2.4" ry="1.5" transform="rotate(-60 558.2 137.1)"/><ellipse cx="547.5" cy="169.1" rx="2.2" ry="1.3" transform="rotate(-19 547.5 169.1)"/><ellipse cx="532.5" cy="130.0" rx="2.4" ry="1.8" transform="rotate(20 532.5 130.0)"/><ellipse cx="498.2" cy="92.0" rx="1.2" ry="1.3" transform="rotate(24 498.2 92.0)"/><ellipse cx="558.0" cy="158.2" rx="3.2" ry="1.5" transform="rotate(7 558.0 158.2)"/><ellipse cx="569.7" cy="353.2" rx="3.2" ry="1.7" transform="rotate(-21 569.7 353.2)"/><ellipse cx="665.6" cy="267.0" rx="1.3" ry="0.8" transform="rotate(-53 665.6 267.0)"/><ellipse cx="605.3" cy="324.4" rx="2.3" ry="1.2" transform="rotate(-2 605.3 324.4)"/><ellipse cx="560.7" cy="261.5" rx="2.8" ry="1.2" transform="rotate(-44 560.7 261.5)"/><ellipse cx="575.1" cy="236.4" rx="2.3" ry="1.4" transform="rotate(-40 575.1 236.4)"/><ellipse cx="671.7" cy="175.5" rx="2.1" ry="1.0" transform="rotate(-41 671.7 175.5)"/><ellipse cx="603.7" cy="153.0" rx="1.1" ry="1.2" transform="rotate(-23 603.7 153.0)"/><ellipse cx="653.2" cy="150.7" rx="2.0" ry="1.2" transform="rotate(-58 653.2 150.7)"/><ellipse cx="570.4" cy="170.2" rx="1.1" ry="1.5" transform="rotate(-35 570.4 170.2)"/><ellipse cx="672.8" cy="261.7" rx="3.2" ry="1.1" transform="rotate(-38 672.8 261.7)"/><ellipse cx="551.7" cy="355.3" rx="2.5" ry="1.1" transform="rotate(-52 551.7 355.3)"/><ellipse cx="627.4" cy="138.0" rx="1.1" ry="0.9" transform="rotate(-45 627.4 138.0)"/><ellipse cx="641.8" cy="378.3" rx="1.5" ry="1.8" transform="rotate(-17 641.8 378.3)"/><ellipse cx="560.7" cy="299.7" rx="3.3" ry="0.9" transform="rotate(-34 560.7 299.7)"/><ellipse cx="580.4" cy="226.6" rx="2.6" ry="1.7" transform="rotate(-44 580.4 226.6)"/><ellipse cx="661.6" cy="333.7" rx="3.0" ry="1.4" transform="rotate(23 661.6 333.7)"/><ellipse cx="574.2" cy="248.1" rx="1.6" ry="1.6" transform="rotate(-17 574.2 248.1)"/><ellipse cx="657.2" cy="299.3" rx="2.7" ry="1.2" transform="rotate(-16 657.2 299.3)"/><ellipse cx="525.7" cy="327.5" rx="1.1" ry="1.3" transform="rotate(8 525.7 327.5)"/><ellipse cx="647.1" cy="163.0" rx="1.6" ry="1.6" transform="rotate(-2 647.1 163.0)"/><ellipse cx="594.4" cy="377.4" rx="2.8" ry="1.1" transform="rotate(-27 594.4 377.4)"/><ellipse cx="622.0" cy="166.5" rx="1.2" ry="1.4" transform="rotate(-38 622.0 166.5)"/><ellipse cx="639.5" cy="293.9" rx="1.0" ry="1.0" transform="rotate(27 639.5 293.9)"/><ellipse cx="587.4" cy="346.3" rx="2.5" ry="1.6" transform="rotate(-12 587.4 346.3)"/><ellipse cx="508.4" cy="358.2" rx="1.3" ry="0.8" transform="rotate(27 508.4 358.2)"/><ellipse cx="536.2" cy="376.4" rx="1.2" ry="1.3" transform="rotate(-40 536.2 376.4)"/><ellipse cx="682.4" cy="301.9" rx="2.5" ry="1.6" transform="rotate(18 682.4 301.9)"/><ellipse cx="570.3" cy="298.6" rx="2.1" ry="0.9" transform="rotate(15 570.3 298.6)"/><ellipse cx="627.9" cy="355.4" rx="1.5" ry="1.3" transform="rotate(-18 627.9 355.4)"/><ellipse cx="658.9" cy="157.7" rx="1.8" ry="1.3" transform="rotate(-54 658.9 157.7)"/><ellipse cx="618.2" cy="334.1" rx="2.0" ry="1.4" transform="rotate(-5 618.2 334.1)"/><ellipse cx="590.0" cy="159.6" rx="1.5" ry="1.0" transform="rotate(24 590.0 159.6)"/><ellipse cx="706.1" cy="280.6" rx="2.0" ry="1.7" transform="rotate(21 706.1 280.6)"/><ellipse cx="710.3" cy="266.8" rx="2.9" ry="1.2" transform="rotate(30 710.3 266.8)"/><ellipse cx="703.5" cy="215.3" rx="3.2" ry="1.0" transform="rotate(-51 703.5 215.3)"/><ellipse cx="657.6" cy="215.9" rx="2.2" ry="1.4" transform="rotate(-56 657.6 215.9)"/><ellipse cx="662.9" cy="211.0" rx="2.0" ry="1.1" transform="rotate(7 662.9 211.0)"/><ellipse cx="663.3" cy="214.0" rx="1.2" ry="1.1" transform="rotate(-23 663.3 214.0)"/><ellipse cx="667.0" cy="324.7" rx="3.3" ry="1.8" transform="rotate(19 667.0 324.7)"/><ellipse cx="576.4" cy="180.2" rx="1.7" ry="1.3" transform="rotate(-13 576.4 180.2)"/><ellipse cx="615.8" cy="233.4" rx="3.0" ry="1.1" transform="rotate(-18 615.8 233.4)"/><ellipse cx="559.0" cy="202.0" rx="2.9" ry="0.8" transform="rotate(-48 559.0 202.0)"/><ellipse cx="613.2" cy="280.6" rx="1.4" ry="0.9" transform="rotate(-42 613.2 280.6)"/><ellipse cx="668.6" cy="261.8" rx="3.4" ry="1.6" transform="rotate(28 668.6 261.8)"/><ellipse cx="616.7" cy="162.1" rx="1.7" ry="1.0" transform="rotate(12 616.7 162.1)"/><ellipse cx="587.0" cy="206.8" rx="1.1" ry="1.2" transform="rotate(-4 587.0 206.8)"/><ellipse cx="677.6" cy="203.3" rx="1.3" ry="1.6" transform="rotate(11 677.6 203.3)"/><ellipse cx="608.0" cy="359.7" rx="2.3" ry="1.1" transform="rotate(-45 608.0 359.7)"/><ellipse cx="598.5" cy="315.4" rx="3.2" ry="1.6" transform="rotate(-6 598.5 315.4)"/><ellipse cx="586.1" cy="275.9" rx="1.4" ry="1.0" transform="rotate(2 586.1 275.9)"/></g><g fill="#c3c3c3" filter="url(#b3)" opacity="1"><path d="M208.0,265.0C206.3,253.3 203.8,240.8 205.0,230.0C206.2,219.2 207.5,206.7 215.0,200.0C222.5,193.3 238.3,192.5 250.0,190.0C261.7,187.5 274.0,183.3 285.0,185.0C296.0,186.7 310.2,192.5 316.0,200.0C321.8,207.5 320.0,216.7 320.0,230.0C320.0,243.3 317.3,263.3 316.0,280.0C314.7,296.7 312.0,313.3 312.0,330.0C312.0,346.7 318.0,368.3 316.0,380.0C314.0,391.7 304.3,396.7 300.0,400.0C295.7,403.3 296.7,403.3 290.0,400.0C283.3,396.7 268.3,390.0 260.0,380.0C251.7,370.0 247.5,353.3 240.0,340.0C232.5,326.7 220.3,312.5 215.0,300.0C209.7,287.5 209.7,276.7 208.0,265.0Z"/></g><g fill="#dadada" filter="url(#b3)" opacity="1"><path d="M345.0,80.0C348.3,73.7 357.3,75.3 365.0,72.0C372.7,68.7 382.5,61.7 391.0,60.0C399.5,58.3 410.5,62.5 416.0,62.0C421.5,61.5 419.8,57.3 424.0,57.0C428.2,56.7 436.7,58.2 441.0,60.0C445.3,61.8 448.8,61.3 450.0,68.0C451.2,74.7 447.7,89.7 448.0,100.0C448.3,110.3 449.7,121.7 452.0,130.0C454.3,138.3 459.0,140.0 462.0,150.0C465.0,160.0 469.0,176.7 470.0,190.0C471.0,203.3 469.3,218.3 468.0,230.0C466.7,241.7 464.2,250.0 462.0,260.0C459.8,270.0 457.0,278.3 455.0,290.0C453.0,301.7 451.2,316.7 450.0,330.0C448.8,343.3 449.7,357.5 448.0,370.0C446.3,382.5 445.3,397.3 440.0,405.0C434.7,412.7 424.2,414.7 416.0,416.0C407.8,417.3 399.3,413.0 391.0,413.0C382.7,413.0 372.5,414.7 366.0,416.0C359.5,417.3 358.5,421.0 352.0,421.0C345.5,421.0 335.7,415.2 327.0,416.0C318.3,416.8 306.2,428.7 300.0,426.0C293.8,423.3 290.0,406.8 290.0,400.0C290.0,393.2 295.7,388.3 300.0,385.0C304.3,381.7 314.0,389.2 316.0,380.0C318.0,370.8 312.0,346.7 312.0,330.0C312.0,313.3 314.7,296.7 316.0,280.0C317.3,263.3 320.0,243.3 320.0,230.0C320.0,216.7 315.7,210.0 316.0,200.0C316.3,190.0 318.8,180.0 322.0,170.0C325.2,160.0 331.2,150.0 335.0,140.0C338.8,130.0 343.3,120.0 345.0,110.0C346.7,100.0 341.7,86.3 345.0,80.0Z"/></g><g fill="#ebebeb" filter="url(#b6)" opacity="1"><path d="M300.0,426.0C294.2,422.5 292.0,403.5 292.0,395.0C292.0,386.5 292.0,380.0 300.0,375.0C308.0,370.0 325.0,365.8 340.0,365.0C355.0,364.2 373.3,370.5 390.0,370.0C406.7,369.5 425.3,361.7 440.0,362.0C454.7,362.3 471.3,365.7 478.0,372.0C484.7,378.3 487.0,393.5 480.0,400.0C473.0,406.5 446.7,408.3 436.0,411.0C425.3,413.7 423.5,415.7 416.0,416.0C408.5,416.3 399.3,413.0 391.0,413.0C382.7,413.0 372.5,414.7 366.0,416.0C359.5,417.3 358.5,421.0 352.0,421.0C345.5,421.0 335.7,415.2 327.0,416.0C318.3,416.8 305.8,429.5 300.0,426.0Z"/></g></g></g><g id="cart"><polygon points="217.8,201.7 256.9,302.0 267.1,298.0 226.2,198.3" fill="#c8c8c8" stroke="#b4b4b4" stroke-width="0.6" stroke-linejoin="round"/><polygon points="225.1,238.7 278.2,358.3 272.4,360.8 292.0,372.0 296.7,350.0 290.9,352.5 236.9,233.3" fill="#c6c6c6" stroke="#b4b4b4" stroke-width="0.6" stroke-linejoin="round"/><polygon points="241.8,215.6 295.3,353.8 304.7,350.2 250.2,212.4" fill="#dedede" stroke="#b4b4b4" stroke-width="0.6" stroke-linejoin="round"/><polygon points="258.2,211.4 307.8,346.6 316.2,343.4 265.8,208.6" fill="#b9b9b9" stroke="#b4b4b4" stroke-width="0.6" stroke-linejoin="round"/><polygon points="272.3,219.4 317.8,341.6 326.2,338.4 279.7,216.6" fill="#d8d8d8" stroke="#b4b4b4" stroke-width="0.6" stroke-linejoin="round"/><polygon points="279.6,254.7 299.1,357.8 306.9,356.2 286.4,253.3" fill="#bebebe" stroke="#b4b4b4" stroke-width="0.6" stroke-linejoin="round"/><polygon points="295.9,233.9 340.9,331.9 349.1,328.1 304.1,230.1" fill="#e4e4e4" stroke="#b4b4b4" stroke-width="0.6" stroke-linejoin="round"/><polygon points="314.4,237.7 352.4,319.7 359.6,316.3 321.6,234.3" fill="#cccccc" stroke="#b4b4b4" stroke-width="0.6" stroke-linejoin="round"/><polygon points="347.7,151.3 387.2,281.5 396.8,278.5 356.3,148.7" fill="#e2e2e2" stroke="#b4b4b4" stroke-width="0.6" stroke-linejoin="round"/><polygon points="363.6,141.1 400.2,283.3 409.8,280.7 372.4,138.9" fill="#c0c0c0" stroke="#b4b4b4" stroke-width="0.6" stroke-linejoin="round"/><polygon points="424.8,238.8 396.0,124.4 400.4,123.3 388.0,113.0 382.0,127.9 386.3,126.8 415.2,241.2" fill="#efefef" stroke="#b4b4b4" stroke-width="0.6" stroke-linejoin="round"/><polygon points="399.1,127.1 431.7,247.2 440.3,244.8 406.9,124.9" fill="#d2d2d2" stroke="#b4b4b4" stroke-width="0.6" stroke-linejoin="round"/><polygon points="412.6,133.0 446.2,251.1 453.8,248.9 419.4,131.0" fill="#efefef" stroke="#b4b4b4" stroke-width="0.6" stroke-linejoin="round"/><polygon points="428.6,151.0 458.2,253.1 465.8,250.9 435.4,149.0" fill="#c8c8c8" stroke="#b4b4b4" stroke-width="0.6" stroke-linejoin="round"/><polygon points="379.1,287.1 322.7,343.8 331.3,352.2 386.9,294.9" fill="#cdcdcd" stroke="#b4b4b4" stroke-width="0.6" stroke-linejoin="round"/><polygon points="375.6,293.7 334.7,369.2 345.3,374.8 384.4,298.3" fill="#efefef" stroke="#b4b4b4" stroke-width="0.6" stroke-linejoin="round"/><polygon points="381.6,297.2 364.1,374.7 377.9,377.3 390.4,298.8" fill="#d0d0d0" stroke="#b4b4b4" stroke-width="0.6" stroke-linejoin="round"/><polygon points="387.5,296.5 393.0,372.7 407.0,371.3 396.5,295.5" fill="#efefef" stroke="#b4b4b4" stroke-width="0.6" stroke-linejoin="round"/><polygon points="394.2,293.1 413.8,369.8 426.2,366.2 401.8,290.9" fill="#c9c9c9" stroke="#b4b4b4" stroke-width="0.6" stroke-linejoin="round"/><polygon points="402.0,292.2 436.3,359.1 447.7,352.9 410.0,287.8" fill="#efefef" stroke="#b4b4b4" stroke-width="0.6" stroke-linejoin="round"/><polygon points="412.3,286.5 453.0,349.4 463.0,342.6 419.7,281.5" fill="#cfcfcf" stroke="#b4b4b4" stroke-width="0.6" stroke-linejoin="round"/><polygon points="424.4,278.7 469.6,341.3 478.4,334.7 431.6,273.3" fill="#efefef" stroke="#b4b4b4" stroke-width="0.6" stroke-linejoin="round"/><polygon points="436.7,264.3 483.9,332.9 492.1,327.1 443.3,259.7" fill="#c6c6c6" stroke="#b4b4b4" stroke-width="0.6" stroke-linejoin="round"/><polygon points="466.3,177.4 494.3,251.4 501.7,248.6 473.7,174.6" fill="#cbcbcb" stroke="#b4b4b4" stroke-width="0.6" stroke-linejoin="round"/><polygon points="478.3,187.5 508.3,263.5 515.7,260.5 485.7,184.5" fill="#efefef" stroke="#b4b4b4" stroke-width="0.6" stroke-linejoin="round"/><path d="M452.0,146.0C453.7,144.7 458.3,139.7 462.0,138.0C465.7,136.3 470.2,135.2 474.0,136.0C477.8,136.8 481.8,139.0 485.0,143.0C488.2,147.0 490.3,153.5 493.0,160.0C495.7,166.5 497.8,173.7 501.0,182.0C504.2,190.3 508.2,201.0 512.0,210.0C515.8,219.0 520.0,228.3 524.0,236.0C528.0,243.7 534.0,252.7 536.0,256.0" fill="none" stroke="#b4b4b4" stroke-width="11.2" stroke-linecap="butt"/><path d="M452.0,146.0C453.7,144.7 458.3,139.7 462.0,138.0C465.7,136.3 470.2,135.2 474.0,136.0C477.8,136.8 481.8,139.0 485.0,143.0C488.2,147.0 490.3,153.5 493.0,160.0C495.7,166.5 497.8,173.7 501.0,182.0C504.2,190.3 508.2,201.0 512.0,210.0C515.8,219.0 520.0,228.3 524.0,236.0C528.0,243.7 534.0,252.7 536.0,256.0" fill="none" stroke="#f6f6f6" stroke-width="10" stroke-linecap="butt"/><polygon points="470.8,197.4 516.3,301.6 523.7,298.4 477.2,194.6" fill="#d6d6d6" stroke="#b4b4b4" stroke-width="0.6" stroke-linejoin="round"/><polygon points="458.7,201.3 501.3,311.5 508.7,308.5 465.3,198.7" fill="#efefef" stroke="#b4b4b4" stroke-width="0.6" stroke-linejoin="round"/><polygon points="459.4,261.0 455.0,242.4 459.0,241.5 448.0,232.0 442.3,245.3 446.3,244.4 450.6,263.0" fill="#fafafa" stroke="#b4b4b4" stroke-width="0.6" stroke-linejoin="round"/><ellipse cx="433" cy="85" rx="11" ry="14" fill="none" stroke="#a8a8a8" stroke-width="9.5" transform="rotate(-15 433 85)"/><ellipse cx="433" cy="85" rx="11" ry="14" fill="none" stroke="#ececec" stroke-width="8" transform="rotate(-15 433 85)"/><ellipse cx="436" cy="83" rx="6" ry="9" fill="#c6c6c6" transform="rotate(-15 436 83)"/><path d="M322.0,175.0C321.5,172.8 318.5,165.7 319.0,162.0C319.5,158.3 322.2,154.5 325.0,153.0C327.8,151.5 334.2,153.0 336.0,153.0" fill="none" stroke="#b4b4b4" stroke-width="7.2" stroke-linecap="butt"/><path d="M322.0,175.0C321.5,172.8 318.5,165.7 319.0,162.0C319.5,158.3 322.2,154.5 325.0,153.0C327.8,151.5 334.2,153.0 336.0,153.0" fill="none" stroke="#f4f4f4" stroke-width="6" stroke-linecap="butt"/><path d="M280.0,326.0C279.3,328.7 278.0,337.7 276.0,342.0C274.0,346.3 271.0,349.7 268.0,352.0C265.0,354.3 259.7,355.3 258.0,356.0" fill="none" stroke="#8e8e8e" stroke-width="7.2" stroke-linecap="butt"/><path d="M280.0,326.0C279.3,328.7 278.0,337.7 276.0,342.0C274.0,346.3 271.0,349.7 268.0,352.0C265.0,354.3 259.7,355.3 258.0,356.0" fill="none" stroke="#b4b4b4" stroke-width="6" stroke-linecap="butt"/><path d="M320.0,100.0C321.7,100.7 327.8,101.7 330.0,104.0C332.2,106.3 333.7,111.0 333.0,114.0C332.3,117.0 328.8,121.0 326.0,122.0C323.2,123.0 318.5,122.0 316.0,120.0C313.5,118.0 311.0,113.2 311.0,110.0C311.0,106.8 314.5,102.7 316.0,101.0C317.5,99.3 319.3,100.2 320.0,100.0" fill="none" stroke="#a8a8a8" stroke-width="3.5999999999999996" stroke-linecap="round"/><path d="M320.0,100.0C321.7,100.7 327.8,101.7 330.0,104.0C332.2,106.3 333.7,111.0 333.0,114.0C332.3,117.0 328.8,121.0 326.0,122.0C323.2,123.0 318.5,122.0 316.0,120.0C313.5,118.0 311.0,113.2 311.0,110.0C311.0,106.8 314.5,102.7 316.0,101.0C317.5,99.3 319.3,100.2 320.0,100.0" fill="none" stroke="#f1f1f1" stroke-width="2.4" stroke-linecap="round"/><path d="M327.0,128.0C325.2,129.7 319.2,134.7 316.0,138.0C312.8,141.3 308.5,144.0 308.0,148.0C307.5,152.0 313.5,158.0 313.0,162.0C312.5,166.0 306.3,170.3 305.0,172.0" fill="none" stroke="#a8a8a8" stroke-width="3.8" stroke-linecap="round"/><path d="M327.0,128.0C325.2,129.7 319.2,134.7 316.0,138.0C312.8,141.3 308.5,144.0 308.0,148.0C307.5,152.0 313.5,158.0 313.0,162.0C312.5,166.0 306.3,170.3 305.0,172.0" fill="none" stroke="#f1f1f1" stroke-width="2.6" stroke-linecap="round"/><path d="M349.0,121.0C348.7,116.5 345.7,100.2 347.0,94.0C348.3,87.8 353.0,86.0 357.0,84.0C361.0,82.0 366.2,83.7 371.0,82.0C375.8,80.3 382.7,77.3 386.0,74.0C389.3,70.7 391.5,63.5 391.0,62.0C390.5,60.5 384.3,64.5 383.0,65.0" fill="none" stroke="#a8a8a8" stroke-width="3.8" stroke-linecap="round"/><path d="M349.0,121.0C348.7,116.5 345.7,100.2 347.0,94.0C348.3,87.8 353.0,86.0 357.0,84.0C361.0,82.0 366.2,83.7 371.0,82.0C375.8,80.3 382.7,77.3 386.0,74.0C389.3,70.7 391.5,63.5 391.0,62.0C390.5,60.5 384.3,64.5 383.0,65.0" fill="none" stroke="#f1f1f1" stroke-width="2.6" stroke-linecap="round"/><path d="M369.0,101.0C372.7,100.7 385.3,100.7 391.0,99.0C396.7,97.3 402.2,93.8 403.0,91.0C403.8,88.2 398.8,84.8 396.0,82.0C393.2,79.2 387.7,75.3 386.0,74.0" fill="none" stroke="#a8a8a8" stroke-width="3.8" stroke-linecap="round"/><path d="M369.0,101.0C372.7,100.7 385.3,100.7 391.0,99.0C396.7,97.3 402.2,93.8 403.0,91.0C403.8,88.2 398.8,84.8 396.0,82.0C393.2,79.2 387.7,75.3 386.0,74.0" fill="none" stroke="#f1f1f1" stroke-width="2.6" stroke-linecap="round"/><path d="M403.0,91.0C405.0,90.5 411.5,88.8 415.0,88.0C418.5,87.2 422.5,86.3 424.0,86.0" fill="none" stroke="#a8a8a8" stroke-width="3.8" stroke-linecap="round"/><path d="M403.0,91.0C405.0,90.5 411.5,88.8 415.0,88.0C418.5,87.2 422.5,86.3 424.0,86.0" fill="none" stroke="#f1f1f1" stroke-width="2.6" stroke-linecap="round"/><path d="M447.0,101.0C446.7,104.3 444.5,115.7 445.0,121.0C445.5,126.3 448.0,129.3 450.0,133.0C452.0,136.7 455.8,141.3 457.0,143.0" fill="none" stroke="#a8a8a8" stroke-width="3.8" stroke-linecap="round"/><path d="M447.0,101.0C446.7,104.3 444.5,115.7 445.0,121.0C445.5,126.3 448.0,129.3 450.0,133.0C452.0,136.7 455.8,141.3 457.0,143.0" fill="none" stroke="#f1f1f1" stroke-width="2.6" stroke-linecap="round"/><path d="M215.0,188.0C217.8,187.3 227.8,183.7 232.0,184.0C236.2,184.3 236.7,188.0 240.0,190.0C243.3,192.0 248.3,193.0 252.0,196.0C255.7,199.0 260.3,206.0 262.0,208.0" fill="none" stroke="#a8a8a8" stroke-width="3.8" stroke-linecap="round"/><path d="M215.0,188.0C217.8,187.3 227.8,183.7 232.0,184.0C236.2,184.3 236.7,188.0 240.0,190.0C243.3,192.0 248.3,193.0 252.0,196.0C255.7,199.0 260.3,206.0 262.0,208.0" fill="none" stroke="#f1f1f1" stroke-width="2.6" stroke-linecap="round"/><path d="M222.0,262.0C221.3,258.3 219.7,246.7 218.0,240.0C216.3,233.3 211.7,228.7 212.0,222.0C212.3,215.3 216.0,204.7 220.0,200.0C224.0,195.3 233.3,195.0 236.0,194.0" fill="none" stroke="#a8a8a8" stroke-width="3.8" stroke-linecap="round"/><path d="M222.0,262.0C221.3,258.3 219.7,246.7 218.0,240.0C216.3,233.3 211.7,228.7 212.0,222.0C212.3,215.3 216.0,204.7 220.0,200.0C224.0,195.3 233.3,195.0 236.0,194.0" fill="none" stroke="#f1f1f1" stroke-width="2.6" stroke-linecap="round"/><path d="M262.0,190.0C263.7,188.3 268.3,182.3 272.0,180.0C275.7,177.7 279.3,175.0 284.0,176.0C288.7,177.0 295.7,182.0 300.0,186.0C304.3,190.0 308.3,197.7 310.0,200.0" fill="none" stroke="#a8a8a8" stroke-width="3.8" stroke-linecap="round"/><path d="M262.0,190.0C263.7,188.3 268.3,182.3 272.0,180.0C275.7,177.7 279.3,175.0 284.0,176.0C288.7,177.0 295.7,182.0 300.0,186.0C304.3,190.0 308.3,197.7 310.0,200.0" fill="none" stroke="#f1f1f1" stroke-width="2.6" stroke-linecap="round"/><path d="M290.0,313.0C292.5,312.2 300.8,306.3 305.0,308.0C309.2,309.7 310.5,321.0 315.0,323.0C319.5,325.0 326.7,322.0 332.0,320.0C337.3,318.0 344.2,317.8 347.0,311.0C349.8,304.2 350.7,288.5 349.0,279.0C347.3,269.5 340.7,259.7 337.0,254.0C333.3,248.3 328.7,246.5 327.0,245.0" fill="none" stroke="#a8a8a8" stroke-width="3.8" stroke-linecap="round"/><path d="M290.0,313.0C292.5,312.2 300.8,306.3 305.0,308.0C309.2,309.7 310.5,321.0 315.0,323.0C319.5,325.0 326.7,322.0 332.0,320.0C337.3,318.0 344.2,317.8 347.0,311.0C349.8,304.2 350.7,288.5 349.0,279.0C347.3,269.5 340.7,259.7 337.0,254.0C333.3,248.3 328.7,246.5 327.0,245.0" fill="none" stroke="#f1f1f1" stroke-width="2.6" stroke-linecap="round"/><path d="M308.0,377.0C308.3,381.0 306.8,395.0 310.0,401.0C313.2,407.0 320.8,413.0 327.0,413.0C333.2,413.0 342.0,406.2 347.0,401.0C352.0,395.8 355.3,385.2 357.0,382.0" fill="none" stroke="#a8a8a8" stroke-width="3.8" stroke-linecap="round"/><path d="M308.0,377.0C308.3,381.0 306.8,395.0 310.0,401.0C313.2,407.0 320.8,413.0 327.0,413.0C333.2,413.0 342.0,406.2 347.0,401.0C352.0,395.8 355.3,385.2 357.0,382.0" fill="none" stroke="#f1f1f1" stroke-width="2.6" stroke-linecap="round"/><path d="M359.0,389.0C361.0,390.7 365.7,399.3 371.0,399.0C376.3,398.7 385.2,389.8 391.0,387.0C396.8,384.2 402.0,380.0 406.0,382.0C410.0,384.0 410.2,395.8 415.0,399.0C419.8,402.2 428.0,402.3 435.0,401.0C442.0,399.7 450.2,393.0 457.0,391.0C463.8,389.0 472.8,389.3 476.0,389.0" fill="none" stroke="#a8a8a8" stroke-width="3.8" stroke-linecap="round"/><path d="M359.0,389.0C361.0,390.7 365.7,399.3 371.0,399.0C376.3,398.7 385.2,389.8 391.0,387.0C396.8,384.2 402.0,380.0 406.0,382.0C410.0,384.0 410.2,395.8 415.0,399.0C419.8,402.2 428.0,402.3 435.0,401.0C442.0,399.7 450.2,393.0 457.0,391.0C463.8,389.0 472.8,389.3 476.0,389.0" fill="none" stroke="#f1f1f1" stroke-width="2.6" stroke-linecap="round"/><path d="M340.0,196.0C342.0,196.7 348.3,197.0 352.0,200.0C355.7,203.0 358.0,212.3 362.0,214.0C366.0,215.7 371.7,213.0 376.0,210.0C380.3,207.0 384.0,197.7 388.0,196.0C392.0,194.3 397.3,197.0 400.0,200.0C402.7,203.0 404.7,209.7 404.0,214.0C403.3,218.3 399.3,223.7 396.0,226.0C392.7,228.3 386.0,227.7 384.0,228.0" fill="none" stroke="#a8a8a8" stroke-width="3.8" stroke-linecap="round"/><path d="M340.0,196.0C342.0,196.7 348.3,197.0 352.0,200.0C355.7,203.0 358.0,212.3 362.0,214.0C366.0,215.7 371.7,213.0 376.0,210.0C380.3,207.0 384.0,197.7 388.0,196.0C392.0,194.3 397.3,197.0 400.0,200.0C402.7,203.0 404.7,209.7 404.0,214.0C403.3,218.3 399.3,223.7 396.0,226.0C392.7,228.3 386.0,227.7 384.0,228.0" fill="none" stroke="#f1f1f1" stroke-width="2.6" stroke-linecap="round"/><path d="M384.0,228.0C385.3,230.7 388.0,242.0 392.0,244.0C396.0,246.0 403.3,243.3 408.0,240.0C412.7,236.7 415.3,227.3 420.0,224.0C424.7,220.7 431.7,218.7 436.0,220.0C440.3,221.3 445.3,227.7 446.0,232.0C446.7,236.3 443.0,243.0 440.0,246.0C437.0,249.0 430.0,249.3 428.0,250.0" fill="none" stroke="#a8a8a8" stroke-width="3.8" stroke-linecap="round"/><path d="M384.0,228.0C385.3,230.7 388.0,242.0 392.0,244.0C396.0,246.0 403.3,243.3 408.0,240.0C412.7,236.7 415.3,227.3 420.0,224.0C424.7,220.7 431.7,218.7 436.0,220.0C440.3,221.3 445.3,227.7 446.0,232.0C446.7,236.3 443.0,243.0 440.0,246.0C437.0,249.0 430.0,249.3 428.0,250.0" fill="none" stroke="#f1f1f1" stroke-width="2.6" stroke-linecap="round"/><path d="M396.0,160.0C398.3,160.7 406.3,161.0 410.0,164.0C413.7,167.0 418.3,173.3 418.0,178.0C417.7,182.7 411.7,190.0 408.0,192.0C404.3,194.0 398.7,192.7 396.0,190.0C393.3,187.3 391.3,180.0 392.0,176.0C392.7,172.0 398.7,167.7 400.0,166.0" fill="none" stroke="#a8a8a8" stroke-width="3.8" stroke-linecap="round"/><path d="M396.0,160.0C398.3,160.7 406.3,161.0 410.0,164.0C413.7,167.0 418.3,173.3 418.0,178.0C417.7,182.7 411.7,190.0 408.0,192.0C404.3,194.0 398.7,192.7 396.0,190.0C393.3,187.3 391.3,180.0 392.0,176.0C392.7,172.0 398.7,167.7 400.0,166.0" fill="none" stroke="#f1f1f1" stroke-width="2.6" stroke-linecap="round"/><path d="M436.0,160.0C438.7,159.3 447.0,155.3 452.0,156.0C457.0,156.7 463.0,160.0 466.0,164.0C469.0,168.0 471.0,175.3 470.0,180.0C469.0,184.7 463.7,190.3 460.0,192.0C456.3,193.7 450.0,190.3 448.0,190.0" fill="none" stroke="#a8a8a8" stroke-width="3.8" stroke-linecap="round"/><path d="M436.0,160.0C438.7,159.3 447.0,155.3 452.0,156.0C457.0,156.7 463.0,160.0 466.0,164.0C469.0,168.0 471.0,175.3 470.0,180.0C469.0,184.7 463.7,190.3 460.0,192.0C456.3,193.7 450.0,190.3 448.0,190.0" fill="none" stroke="#f1f1f1" stroke-width="2.6" stroke-linecap="round"/><path d="M470.0,130.0C472.3,129.3 479.7,125.3 484.0,126.0C488.3,126.7 493.3,130.3 496.0,134.0C498.7,137.7 500.7,144.7 500.0,148.0C499.3,151.3 493.3,153.0 492.0,154.0" fill="none" stroke="#a8a8a8" stroke-width="3.8" stroke-linecap="round"/><path d="M470.0,130.0C472.3,129.3 479.7,125.3 484.0,126.0C488.3,126.7 493.3,130.3 496.0,134.0C498.7,137.7 500.7,144.7 500.0,148.0C499.3,151.3 493.3,153.0 492.0,154.0" fill="none" stroke="#f1f1f1" stroke-width="2.6" stroke-linecap="round"/><path d="M488.0,262.0C490.0,263.3 495.3,270.0 500.0,270.0C504.7,270.0 512.3,261.0 516.0,262.0C519.7,263.0 522.7,271.3 522.0,276.0C521.3,280.7 516.0,286.7 512.0,290.0C508.0,293.3 500.3,295.0 498.0,296.0" fill="none" stroke="#a8a8a8" stroke-width="3.8" stroke-linecap="round"/><path d="M488.0,262.0C490.0,263.3 495.3,270.0 500.0,270.0C504.7,270.0 512.3,261.0 516.0,262.0C519.7,263.0 522.7,271.3 522.0,276.0C521.3,280.7 516.0,286.7 512.0,290.0C508.0,293.3 500.3,295.0 498.0,296.0" fill="none" stroke="#f1f1f1" stroke-width="2.6" stroke-linecap="round"/><path d="M466.0,298.0C467.3,300.7 470.0,310.7 474.0,314.0C478.0,317.3 485.7,319.3 490.0,318.0C494.3,316.7 496.3,306.7 500.0,306.0C503.7,305.3 510.7,310.0 512.0,314.0C513.3,318.0 510.7,326.0 508.0,330.0C505.3,334.0 498.0,336.7 496.0,338.0" fill="none" stroke="#a8a8a8" stroke-width="3.8" stroke-linecap="round"/><path d="M466.0,298.0C467.3,300.7 470.0,310.7 474.0,314.0C478.0,317.3 485.7,319.3 490.0,318.0C494.3,316.7 496.3,306.7 500.0,306.0C503.7,305.3 510.7,310.0 512.0,314.0C513.3,318.0 510.7,326.0 508.0,330.0C505.3,334.0 498.0,336.7 496.0,338.0" fill="none" stroke="#f1f1f1" stroke-width="2.6" stroke-linecap="round"/><path d="M496.0,338.0C494.0,340.3 486.7,346.3 484.0,352.0C481.3,357.7 479.0,366.3 480.0,372.0C481.0,377.7 489.7,381.7 490.0,386.0C490.3,390.3 483.3,396.0 482.0,398.0" fill="none" stroke="#a8a8a8" stroke-width="3.8" stroke-linecap="round"/><path d="M496.0,338.0C494.0,340.3 486.7,346.3 484.0,352.0C481.3,357.7 479.0,366.3 480.0,372.0C481.0,377.7 489.7,381.7 490.0,386.0C490.3,390.3 483.3,396.0 482.0,398.0" fill="none" stroke="#f1f1f1" stroke-width="2.6" stroke-linecap="round"/><path d="M540.0,228.0C542.0,231.7 549.3,242.0 552.0,250.0C554.7,258.0 556.7,267.7 556.0,276.0C555.3,284.3 548.7,292.3 548.0,300.0C547.3,307.7 553.3,315.7 552.0,322.0C550.7,328.3 545.0,334.0 540.0,338.0C535.0,342.0 527.3,345.0 522.0,346.0C516.7,347.0 510.3,344.3 508.0,344.0" fill="none" stroke="#a8a8a8" stroke-width="3.8" stroke-linecap="round"/><path d="M540.0,228.0C542.0,231.7 549.3,242.0 552.0,250.0C554.7,258.0 556.7,267.7 556.0,276.0C555.3,284.3 548.7,292.3 548.0,300.0C547.3,307.7 553.3,315.7 552.0,322.0C550.7,328.3 545.0,334.0 540.0,338.0C535.0,342.0 527.3,345.0 522.0,346.0C516.7,347.0 510.3,344.3 508.0,344.0" fill="none" stroke="#f1f1f1" stroke-width="2.6" stroke-linecap="round"/><path d="M470.0,272.0C469.3,275.0 466.0,284.3 466.0,290.0C466.0,295.7 469.3,303.3 470.0,306.0" fill="none" stroke="#a8a8a8" stroke-width="3.8" stroke-linecap="round"/><path d="M470.0,272.0C469.3,275.0 466.0,284.3 466.0,290.0C466.0,295.7 469.3,303.3 470.0,306.0" fill="none" stroke="#f1f1f1" stroke-width="2.6" stroke-linecap="round"/><path d="M430.0,300.0C432.7,300.7 441.0,304.3 446.0,304.0C451.0,303.7 456.3,301.3 460.0,298.0C463.7,294.7 466.7,286.3 468.0,284.0" fill="none" stroke="#a8a8a8" stroke-width="3.8" stroke-linecap="round"/><path d="M430.0,300.0C432.7,300.7 441.0,304.3 446.0,304.0C451.0,303.7 456.3,301.3 460.0,298.0C463.7,294.7 466.7,286.3 468.0,284.0" fill="none" stroke="#f1f1f1" stroke-width="2.6" stroke-linecap="round"/><path d="M360.0,262.0C362.0,263.3 368.7,266.0 372.0,270.0C375.3,274.0 376.0,283.0 380.0,286.0C384.0,289.0 391.0,289.0 396.0,288.0C401.0,287.0 405.3,280.7 410.0,280.0C414.7,279.3 421.7,283.3 424.0,284.0" fill="none" stroke="#a8a8a8" stroke-width="3.8" stroke-linecap="round"/><path d="M360.0,262.0C362.0,263.3 368.7,266.0 372.0,270.0C375.3,274.0 376.0,283.0 380.0,286.0C384.0,289.0 391.0,289.0 396.0,288.0C401.0,287.0 405.3,280.7 410.0,280.0C414.7,279.3 421.7,283.3 424.0,284.0" fill="none" stroke="#f1f1f1" stroke-width="2.6" stroke-linecap="round"/><path d="M300.0,140.0C301.0,142.0 306.0,147.7 306.0,152.0C306.0,156.3 302.7,162.0 300.0,166.0C297.3,170.0 291.7,174.3 290.0,176.0" fill="none" stroke="#a8a8a8" stroke-width="3.8" stroke-linecap="round"/><path d="M300.0,140.0C301.0,142.0 306.0,147.7 306.0,152.0C306.0,156.3 302.7,162.0 300.0,166.0C297.3,170.0 291.7,174.3 290.0,176.0" fill="none" stroke="#f1f1f1" stroke-width="2.6" stroke-linecap="round"/><path d="M262.0,300.0C262.7,302.7 266.0,311.0 266.0,316.0C266.0,321.0 262.7,327.7 262.0,330.0" fill="none" stroke="#a8a8a8" stroke-width="3.8" stroke-linecap="round"/><path d="M262.0,300.0C262.7,302.7 266.0,311.0 266.0,316.0C266.0,321.0 262.7,327.7 262.0,330.0" fill="none" stroke="#f1f1f1" stroke-width="2.6" stroke-linecap="round"/><path d="M386.0,150.0C388.0,149.0 393.7,144.0 398.0,144.0C402.3,144.0 408.3,146.7 412.0,150.0C415.7,153.3 416.7,161.0 420.0,164.0C423.3,167.0 428.0,168.7 432.0,168.0C436.0,167.3 440.7,160.3 444.0,160.0C447.3,159.7 450.7,165.0 452.0,166.0" fill="none" stroke="#a8a8a8" stroke-width="3.8" stroke-linecap="round"/><path d="M386.0,150.0C388.0,149.0 393.7,144.0 398.0,144.0C402.3,144.0 408.3,146.7 412.0,150.0C415.7,153.3 416.7,161.0 420.0,164.0C423.3,167.0 428.0,168.7 432.0,168.0C436.0,167.3 440.7,160.3 444.0,160.0C447.3,159.7 450.7,165.0 452.0,166.0" fill="none" stroke="#f1f1f1" stroke-width="2.6" stroke-linecap="round"/><path d="M374.0,176.0C376.3,177.0 384.0,178.7 388.0,182.0C392.0,185.3 394.0,193.3 398.0,196.0C402.0,198.7 407.7,199.3 412.0,198.0C416.3,196.7 419.7,188.7 424.0,188.0C428.3,187.3 434.3,190.7 438.0,194.0C441.7,197.3 445.7,203.3 446.0,208.0C446.3,212.7 441.0,219.7 440.0,222.0" fill="none" stroke="#a8a8a8" stroke-width="3.8" stroke-linecap="round"/><path d="M374.0,176.0C376.3,177.0 384.0,178.7 388.0,182.0C392.0,185.3 394.0,193.3 398.0,196.0C402.0,198.7 407.7,199.3 412.0,198.0C416.3,196.7 419.7,188.7 424.0,188.0C428.3,187.3 434.3,190.7 438.0,194.0C441.7,197.3 445.7,203.3 446.0,208.0C446.3,212.7 441.0,219.7 440.0,222.0" fill="none" stroke="#f1f1f1" stroke-width="2.6" stroke-linecap="round"/><path d="M404.0,232.0C405.7,234.3 409.7,242.7 414.0,246.0C418.3,249.3 425.0,252.0 430.0,252.0C435.0,252.0 439.7,246.0 444.0,246.0C448.3,246.0 453.0,248.7 456.0,252.0C459.0,255.3 461.0,263.7 462.0,266.0" fill="none" stroke="#a8a8a8" stroke-width="3.8" stroke-linecap="round"/><path d="M404.0,232.0C405.7,234.3 409.7,242.7 414.0,246.0C418.3,249.3 425.0,252.0 430.0,252.0C435.0,252.0 439.7,246.0 444.0,246.0C448.3,246.0 453.0,248.7 456.0,252.0C459.0,255.3 461.0,263.7 462.0,266.0" fill="none" stroke="#f1f1f1" stroke-width="2.6" stroke-linecap="round"/><path d="M352.0,232.0C354.3,233.3 362.3,236.0 366.0,240.0C369.7,244.0 370.3,252.3 374.0,256.0C377.7,259.7 383.7,262.0 388.0,262.0C392.3,262.0 398.0,257.0 400.0,256.0" fill="none" stroke="#a8a8a8" stroke-width="3.8" stroke-linecap="round"/><path d="M352.0,232.0C354.3,233.3 362.3,236.0 366.0,240.0C369.7,244.0 370.3,252.3 374.0,256.0C377.7,259.7 383.7,262.0 388.0,262.0C392.3,262.0 398.0,257.0 400.0,256.0" fill="none" stroke="#f1f1f1" stroke-width="2.6" stroke-linecap="round"/><path d="M420.0,196.0C422.0,197.7 429.3,201.7 432.0,206.0C434.7,210.3 436.7,217.0 436.0,222.0C435.3,227.0 431.3,233.0 428.0,236.0C424.7,239.0 418.0,239.3 416.0,240.0" fill="none" stroke="#a8a8a8" stroke-width="3.8" stroke-linecap="round"/><path d="M420.0,196.0C422.0,197.7 429.3,201.7 432.0,206.0C434.7,210.3 436.7,217.0 436.0,222.0C435.3,227.0 431.3,233.0 428.0,236.0C424.7,239.0 418.0,239.3 416.0,240.0" fill="none" stroke="#f1f1f1" stroke-width="2.6" stroke-linecap="round"/><path d="M330.0,296.0C331.7,298.3 339.0,304.3 340.0,310.0C341.0,315.7 335.3,323.3 336.0,330.0C336.7,336.7 343.7,343.7 344.0,350.0C344.3,356.3 339.0,365.0 338.0,368.0" fill="none" stroke="#a8a8a8" stroke-width="3.8" stroke-linecap="round"/><path d="M330.0,296.0C331.7,298.3 339.0,304.3 340.0,310.0C341.0,315.7 335.3,323.3 336.0,330.0C336.7,336.7 343.7,343.7 344.0,350.0C344.3,356.3 339.0,365.0 338.0,368.0" fill="none" stroke="#f1f1f1" stroke-width="2.6" stroke-linecap="round"/><path d="M446.0,366.0C448.0,367.7 454.0,375.0 458.0,376.0C462.0,377.0 467.0,370.7 470.0,372.0C473.0,373.3 475.0,382.0 476.0,384.0" fill="none" stroke="#a8a8a8" stroke-width="3.8" stroke-linecap="round"/><path d="M446.0,366.0C448.0,367.7 454.0,375.0 458.0,376.0C462.0,377.0 467.0,370.7 470.0,372.0C473.0,373.3 475.0,382.0 476.0,384.0" fill="none" stroke="#f1f1f1" stroke-width="2.6" stroke-linecap="round"/><line x1="301.5" y1="204" x2="306" y2="194" stroke="#efe23a" stroke-width="3.3" stroke-linecap="round"/><line x1="306" y1="194" x2="305" y2="186" stroke="#efe23a" stroke-width="3.3" stroke-linecap="round"/><line x1="305" y1="186" x2="309" y2="178" stroke="#e8604c" stroke-width="3.3" stroke-linecap="round"/><line x1="309" y1="178" x2="316" y2="180" stroke="#efe23a" stroke-width="3.3" stroke-linecap="round"/><line x1="316" y1="180" x2="319" y2="188" stroke="#e8604c" stroke-width="3.3" stroke-linecap="round"/><line x1="319" y1="188" x2="313" y2="192" stroke="#efe23a" stroke-width="3.3" stroke-linecap="round"/><line x1="313" y1="192" x2="306" y2="194" stroke="#efe23a" stroke-width="3.3" stroke-linecap="round"/><line x1="313" y1="192" x2="319" y2="194" stroke="#5a6be0" stroke-width="3.3" stroke-linecap="round"/><line x1="319" y1="188" x2="326" y2="191" stroke="#efe23a" stroke-width="3.3" stroke-linecap="round"/><line x1="326" y1="191" x2="330" y2="186" stroke="#efe23a" stroke-width="3.3" stroke-linecap="round"/><line x1="330" y1="186" x2="338" y2="182" stroke="#e8604c" stroke-width="3.3" stroke-linecap="round"/><line x1="338" y1="182" x2="346" y2="177" stroke="#efe23a" stroke-width="3.3" stroke-linecap="round"/><line x1="346" y1="177" x2="353" y2="172" stroke="#e8604c" stroke-width="3.3" stroke-linecap="round"/><line x1="326" y1="191" x2="329" y2="198" stroke="#e8604c" stroke-width="3.3" stroke-linecap="round"/><line x1="321" y1="195" x2="322" y2="203" stroke="#5a6be0" stroke-width="3.3" stroke-linecap="round"/><line x1="309" y1="178" x2="306" y2="176" stroke="#efe23a" stroke-width="3.3" stroke-linecap="round"/></g></defs>
<use href="#surf"/>
<use href="#cart"/>
<circle cx="319.4" cy="96.6" r="10" fill="url(#gP)" opacity="0.55"/>
<circle cx="220.8" cy="265.0" r="12.3" fill="url(#gP)" opacity="1"/>
<circle cx="278.4" cy="320.0" r="12.3" fill="url(#gP)" opacity="1"/>
<circle cx="338.3" cy="385.4" r="12.3" fill="url(#gP)" opacity="1"/>
<circle cx="479.7" cy="303.4" r="12.3" fill="url(#gP)" opacity="1"/>
<circle cx="472.9" cy="255.6" r="12.6" fill="url(#gO)" opacity="1"/>
<line x1="277.5" y1="75" x2="315" y2="92.5" stroke="#000" stroke-width="4"/>
<line x1="180" y1="250" x2="220" y2="261" stroke="#000" stroke-width="4"/>
<line x1="216" y1="334" x2="274" y2="322.5" stroke="#000" stroke-width="4"/>
<line x1="302.5" y1="404" x2="342.5" y2="385" stroke="#000" stroke-width="4"/>
<line x1="480" y1="250" x2="537.5" y2="227.5" stroke="#000" stroke-width="4"/>
<line x1="487.5" y1="305" x2="534" y2="316" stroke="#000" stroke-width="4"/>
<text transform="translate(180.3,81.0) scale(0.9645,1)" font-size="31.2" fill="#fff" stroke="#fff" stroke-width="6" stroke-linejoin="round" style="fill:#fff" filter="url(#glow)">G143V</text>
<text transform="translate(180.3,81.0) scale(0.9645,1)" font-size="31.2">G143V</text>
<text transform="translate(78.5,257.5) scale(0.9645,1)" font-size="31.2" fill="#fff" stroke="#fff" stroke-width="6" stroke-linejoin="round" style="fill:#fff" filter="url(#glow)">G216V</text>
<text transform="translate(78.5,257.5) scale(0.9645,1)" font-size="31.2">G216V</text>
<text transform="translate(118.0,345.0) scale(0.9645,1)" font-size="31.2" fill="#fff" stroke="#fff" stroke-width="6" stroke-linejoin="round" style="fill:#fff" filter="url(#glow)">P267T</text>
<text transform="translate(118.0,345.0) scale(0.9645,1)" font-size="31.2">P267T</text>
<text transform="translate(213.5,419.0) scale(0.9645,1)" font-size="31.2" fill="#fff" stroke="#fff" stroke-width="6" stroke-linejoin="round" style="fill:#fff" filter="url(#glow)">V307I</text>
<text transform="translate(213.5,419.0) scale(0.9645,1)" font-size="31.2">V307I</text>
<text transform="translate(544.5,236.0) scale(0.9645,1)" font-size="31.2" fill="#fff" stroke="#fff" stroke-width="6" stroke-linejoin="round" style="fill:#fff" filter="url(#glow)">N387K</text>
<text transform="translate(544.5,236.0) scale(0.9645,1)" font-size="31.2">N387K</text>
<text transform="translate(543.0,331.0) scale(0.9645,1)" font-size="31.2" fill="#fff" stroke="#fff" stroke-width="6" stroke-linejoin="round" style="fill:#fff" filter="url(#glow)">K385N</text>
<text transform="translate(543.0,331.0) scale(0.9645,1)" font-size="31.2">K385N</text>
<use href="#surf" transform="matrix(0.9905,0.0073,0.0028,0.9705,2.64,509.3)"/>
<path d="M452.0,912.0C450.7,917.0 457.3,925.8 462.0,930.0C466.7,934.2 472.8,935.7 480.0,937.0C487.2,938.3 495.8,938.2 505.0,938.0C514.2,937.8 526.2,937.7 535.0,936.0C543.8,934.3 549.7,931.3 558.0,928.0C566.3,924.7 582.2,920.7 585.0,916.0C587.8,911.3 594.2,902.7 575.0,900.0C555.8,897.3 490.5,898.0 470.0,900.0C449.5,902.0 453.3,907.0 452.0,912.0Z" fill="#cbcbcb" filter="url(#b2)"/>
<use href="#cart" transform="matrix(0.9336,0.0355,-0.0037,0.9904,15.95,499.16)"/>
<circle cx="346.6" cy="598.3" r="11" fill="url(#gW)" opacity="1"/>
<circle cx="317.4" cy="609.2" r="11" fill="url(#gW)" opacity="0.6"/>
<circle cx="221.8" cy="702.2" r="10.5" fill="url(#gW)" opacity="1"/>
<circle cx="235.2" cy="718.0" r="10.5" fill="url(#gW)" opacity="1"/>
<circle cx="437.7" cy="639.3" r="10" fill="url(#gW)" opacity="1"/>
<circle cx="403.7" cy="844.4" r="10" fill="url(#gW)" opacity="0.9"/>
<circle cx="489.2" cy="857.7" r="11" fill="url(#gW)" opacity="1"/>
<circle cx="445.0" cy="837.0" r="8" fill="url(#gW)" opacity="0.6"/>
<circle cx="296.8" cy="834.3" r="8" fill="url(#gW)" opacity="0.8"/>
<circle cx="254.5" cy="850.7" r="11.5" fill="url(#gP)" opacity="0.7"/>
<circle cx="341.3" cy="686.4" r="12" fill="url(#gP)" opacity="1"/>
<circle cx="279.2" cy="715.3" r="12" fill="url(#gP)" opacity="1"/>
<circle cx="270.4" cy="742.5" r="12" fill="url(#gP)" opacity="1"/>
<circle cx="412.5" cy="654.4" r="12" fill="url(#gP)" opacity="1"/>
<circle cx="377.3" cy="678.3" r="12" fill="url(#gP)" opacity="1"/>
<circle cx="358.4" cy="777.7" r="12" fill="url(#gP)" opacity="1"/>
<circle cx="371.5" cy="804.0" r="12" fill="url(#gP)" opacity="1"/>
<circle cx="407.5" cy="788.3" r="12" fill="url(#gP)" opacity="1"/>
<circle cx="479.2" cy="824.8" r="12" fill="url(#gP)" opacity="1"/>
<circle cx="451.0" cy="778.5" r="12" fill="url(#gO)" opacity="1"/>
<line x1="279.2" y1="621" x2="341.3" y2="687" stroke="#000" stroke-width="4"/>
<line x1="203.2" y1="667" x2="280.4" y2="719" stroke="#000" stroke-width="4"/>
<line x1="413.8" y1="655.7" x2="484.2" y2="634.3" stroke="#000" stroke-width="4"/>
<line x1="379.8" y1="678.3" x2="480.4" y2="672.5" stroke="#000" stroke-width="4"/>
<line x1="271.6" y1="741.3" x2="212.5" y2="792.8" stroke="#000" stroke-width="4"/>
<line x1="176.8" y1="850" x2="251.5" y2="850" stroke="#000" stroke-width="4"/>
<line x1="361" y1="779" x2="303" y2="893" stroke="#000" stroke-width="4"/>
<line x1="451.5" y1="779" x2="572.2" y2="758.9" stroke="#000" stroke-width="4"/>
<line x1="479.7" y1="821" x2="559.7" y2="841.9" stroke="#000" stroke-width="4"/>
<line x1="410.8" y1="787.8" x2="486.2" y2="883.4" stroke="#000" stroke-width="4"/>
<line x1="371.5" y1="805" x2="381.6" y2="901" stroke="#000" stroke-width="4"/>
<text transform="translate(188.0,615.0) scale(0.9645,1)" font-size="31.2" fill="#fff" stroke="#fff" stroke-width="6" stroke-linejoin="round" style="fill:#fff" filter="url(#glow)">S346G</text>
<text transform="translate(188.0,615.0) scale(0.9645,1)" font-size="31.2">S346G</text>
<text transform="translate(109.5,662.7) scale(0.9645,1)" font-size="31.2" fill="#fff" stroke="#fff" stroke-width="6" stroke-linejoin="round" style="fill:#fff" filter="url(#glow)">E248G</text>
<text transform="translate(109.5,662.7) scale(0.9645,1)" font-size="31.2">E248G</text>
<text transform="translate(494.0,643.0) scale(0.9645,1)" font-size="31.2" fill="#fff" stroke="#fff" stroke-width="6" stroke-linejoin="round" style="fill:#fff" filter="url(#glow)">E369K</text>
<text transform="translate(494.0,643.0) scale(0.9645,1)" font-size="31.2">E369K</text>
<text transform="translate(492.5,685.4) scale(0.9645,1)" font-size="31.2" fill="#fff" stroke="#fff" stroke-width="6" stroke-linejoin="round" style="fill:#fff" filter="url(#glow)">K344E</text>
<text transform="translate(492.5,685.4) scale(0.9645,1)" font-size="31.2">K344E</text>
<text transform="translate(112.7,807.4) scale(0.9645,1)" font-size="31.2" fill="#fff" stroke="#fff" stroke-width="6" stroke-linejoin="round" style="fill:#fff" filter="url(#glow)">R249K</text>
<text transform="translate(112.7,807.4) scale(0.9645,1)" font-size="31.2">R249K</text>
<text transform="translate(96.3,861.5) scale(0.9645,1)" font-size="31.2" fill="#fff" stroke="#fff" stroke-width="6" stroke-linejoin="round" style="fill:#fff" filter="url(#glow)">I265T</text>
<text transform="translate(96.3,861.5) scale(0.9645,1)" font-size="31.2">I265T</text>
<text transform="translate(229.0,922.8) scale(0.9645,1)" font-size="31.2" fill="#fff" stroke="#fff" stroke-width="6" stroke-linejoin="round" style="fill:#fff" filter="url(#glow)">N339D</text>
<text transform="translate(229.0,922.8) scale(0.9645,1)" font-size="31.2">N339D</text>
<text transform="translate(583.0,766.4) scale(0.9645,1)" font-size="31.2" fill="#fff" stroke="#fff" stroke-width="6" stroke-linejoin="round" style="fill:#fff" filter="url(#glow)">N387K</text>
<text transform="translate(583.0,766.4) scale(0.9645,1)" font-size="31.2">N387K</text>
<text transform="translate(567.5,853.7) scale(0.9645,1)" font-size="31.2" fill="#fff" stroke="#fff" stroke-width="6" stroke-linejoin="round" style="fill:#fff" filter="url(#glow)">G381E</text>
<text transform="translate(567.5,853.7) scale(0.9645,1)" font-size="31.2">G381E</text>
<text transform="translate(468.5,913.5) scale(0.9645,1)" font-size="31.2" fill="#fff" stroke="#fff" stroke-width="6" stroke-linejoin="round" style="fill:#fff" filter="url(#glow)">Y336H</text>
<text transform="translate(468.5,913.5) scale(0.9645,1)" font-size="31.2">Y336H</text>
<text transform="translate(347.0,931.0) scale(0.9645,1)" font-size="31.2" fill="#fff" stroke="#fff" stroke-width="6" stroke-linejoin="round" style="fill:#fff" filter="url(#glow)">R338L</text>
<text transform="translate(347.0,931.0) scale(0.9645,1)" font-size="31.2">R338L</text>
<text transform="translate(-0.70,22.00) scale(0.96,1)" font-size="35.5" text-anchor="start" >a</text>
<text transform="translate(728.50,24.20) scale(0.96,1)" font-size="35.5" text-anchor="start" >b</text>
<text transform="translate(-1.20,498.30) scale(0.96,1)" font-size="35.5" text-anchor="start" >c</text>
<text transform="translate(728.50,498.00) scale(0.96,1)" font-size="35.5" text-anchor="start" >d</text>
<text transform="translate(-1.80,1039.50) scale(0.96,1)" font-size="35.5" text-anchor="start" >e</text>
<rect x="838.45" y="48.03" width="22.10" height="300.37" fill="#94b4d6"/>
<rect x="860.55" y="292.02" width="22.10" height="56.38" fill="#a0d09d"/>
<rect x="882.65" y="292.02" width="22.10" height="56.38" fill="#ffb279"/>
<circle cx="849.50" cy="32.70" r="4.7" fill="#377eb8"/>
<circle cx="849.50" cy="77.80" r="4.7" fill="#377eb8"/>
<circle cx="871.60" cy="292.02" r="4.7" fill="#4daf4a"/>
<circle cx="893.70" cy="292.02" r="4.7" fill="#ff7f00"/>
<rect x="912.25" y="85.47" width="22.10" height="262.93" fill="#94b4d6"/>
<rect x="934.35" y="292.02" width="22.10" height="56.38" fill="#a0d09d"/>
<rect x="956.45" y="292.02" width="22.10" height="56.38" fill="#ffb279"/>
<circle cx="923.30" cy="66.52" r="4.7" fill="#377eb8"/>
<circle cx="923.30" cy="89.07" r="4.7" fill="#377eb8"/>
<circle cx="923.30" cy="100.35" r="4.7" fill="#377eb8"/>
<circle cx="945.40" cy="292.02" r="4.7" fill="#4daf4a"/>
<circle cx="967.50" cy="292.02" r="4.7" fill="#ff7f00"/>
<rect x="986.05" y="51.64" width="22.10" height="296.76" fill="#94b4d6"/>
<rect x="1008.15" y="292.02" width="22.10" height="56.38" fill="#a0d09d"/>
<rect x="1030.25" y="292.02" width="22.10" height="56.38" fill="#ffb279"/>
<circle cx="997.10" cy="43.97" r="4.7" fill="#377eb8"/>
<circle cx="997.10" cy="55.25" r="4.7" fill="#377eb8"/>
<circle cx="1019.20" cy="292.02" r="4.7" fill="#4daf4a"/>
<circle cx="1041.30" cy="292.02" r="4.7" fill="#ff7f00"/>
<rect x="1059.85" y="58.86" width="22.10" height="289.54" fill="#94b4d6"/>
<rect x="1081.95" y="292.02" width="22.10" height="56.38" fill="#a0d09d"/>
<rect x="1104.05" y="292.02" width="22.10" height="56.38" fill="#ffb279"/>
<circle cx="1070.90" cy="32.70" r="4.7" fill="#377eb8"/>
<circle cx="1070.90" cy="55.25" r="4.7" fill="#377eb8"/>
<circle cx="1070.90" cy="89.07" r="4.7" fill="#377eb8"/>
<circle cx="1093.00" cy="292.02" r="4.7" fill="#4daf4a"/>
<circle cx="1115.10" cy="292.02" r="4.7" fill="#ff7f00"/>
<rect x="1133.65" y="44.43" width="22.10" height="303.97" fill="#94b4d6"/>
<rect x="1155.75" y="164.84" width="22.10" height="183.56" fill="#a0d09d"/>
<rect x="1177.85" y="66.98" width="22.10" height="281.42" fill="#c39dc9"/>
<circle cx="1144.70" cy="21.42" r="4.7" fill="#377eb8"/>
<circle cx="1144.70" cy="55.25" r="4.7" fill="#377eb8"/>
<circle cx="1166.80" cy="122.90" r="4.7" fill="#4daf4a"/>
<circle cx="1166.80" cy="179.27" r="4.7" fill="#4daf4a"/>
<circle cx="1166.80" cy="190.55" r="4.7" fill="#4daf4a"/>
<circle cx="1188.90" cy="32.70" r="4.7" fill="#984ea3"/>
<circle cx="1188.90" cy="55.25" r="4.7" fill="#984ea3"/>
<circle cx="1188.90" cy="111.62" r="4.7" fill="#984ea3"/>
<line x1="828.0" y1="285.6" x2="1211" y2="285.6" stroke="#00ee00" stroke-width="3.6" stroke-dasharray="15.3 16.5"/>
<path d="M828.0,3 V365.0 H1214" fill="none" stroke="#000" stroke-width="4.3" stroke-linejoin="miter"/>
<line x1="817.0" y1="348.40" x2="828.0" y2="348.40" stroke="#000" stroke-width="4.3"/>
<text transform="translate(806.50,360.10) scale(0.96,1)" font-size="31.2" text-anchor="end" >0</text>
<line x1="817.0" y1="258.20" x2="828.0" y2="258.20" stroke="#000" stroke-width="4.3"/>
<text transform="translate(806.50,269.90) scale(0.96,1)" font-size="31.2" text-anchor="end" >2</text>
<line x1="817.0" y1="168.00" x2="828.0" y2="168.00" stroke="#000" stroke-width="4.3"/>
<text transform="translate(806.50,179.70) scale(0.96,1)" font-size="31.2" text-anchor="end" >4</text>
<line x1="817.0" y1="77.80" x2="828.0" y2="77.80" stroke="#000" stroke-width="4.3"/>
<text transform="translate(806.50,89.50) scale(0.96,1)" font-size="31.2" text-anchor="end" >6</text>
<line x1="871.60" y1="365.0" x2="871.60" y2="376.0" stroke="#000" stroke-width="4.3"/>
<text transform="translate(882.30,386.50) rotate(-90) scale(0.96,1)" font-size="31.2" text-anchor="end" >HK68</text>
<line x1="945.40" y1="365.0" x2="945.40" y2="376.0" stroke="#000" stroke-width="4.3"/>
<text transform="translate(956.10,386.50) rotate(-90) scale(0.96,1)" font-size="31.2" text-anchor="end" >Bk79</text>
<line x1="1019.20" y1="365.0" x2="1019.20" y2="376.0" stroke="#000" stroke-width="4.3"/>
<text transform="translate(1029.90,386.50) rotate(-90) scale(0.96,1)" font-size="31.2" text-anchor="end" >Bei89</text>
<line x1="1093.00" y1="365.0" x2="1093.00" y2="376.0" stroke="#000" stroke-width="4.3"/>
<text transform="translate(1103.70,386.50) rotate(-90) scale(0.96,1)" font-size="31.2" text-anchor="end" >SD93</text>
<line x1="1166.80" y1="365.0" x2="1166.80" y2="376.0" stroke="#000" stroke-width="4.3"/>
<text transform="translate(1177.50,386.50) rotate(-90) scale(0.96,1)" font-size="31.2" text-anchor="end" >Mos99</text>
<text transform="translate(767.00,186.00) rotate(-90) scale(0.95,1)" font-size="31.2" text-anchor="middle" >log<tspan font-size="20.59" dy="5.30">10</tspan><tspan dy="-5.30"> TCID</tspan><tspan font-size="20.59" dy="5.30">50</tspan><tspan dy="-5.30"></tspan></text>
<rect x="1225.6" y="139.00" width="26.6" height="26.6" fill="#94b4d6"/>
<circle cx="1238.90" cy="152.30" r="4.6" fill="#377eb8"/>
<text transform="translate(1277.50,163.80) scale(0.96,1)" font-size="31.2" text-anchor="start" >WT</text>
<rect x="1225.6" y="171.15" width="26.6" height="26.6" fill="#a0d09d"/>
<circle cx="1238.90" cy="184.45" r="4.6" fill="#4daf4a"/>
<text transform="translate(1277.50,195.95) scale(0.96,1)" font-size="31.2" text-anchor="start" >N387K</text>
<rect x="1225.6" y="203.30" width="26.6" height="26.6" fill="#c39dc9"/>
<circle cx="1238.90" cy="216.60" r="4.6" fill="#984ea3"/>
<text transform="translate(1277.50,228.10) scale(0.96,1)" font-size="31.2" text-anchor="start" >K385N/N387K</text>
<rect x="1225.6" y="235.45" width="26.6" height="26.6" fill="#ffb279"/>
<circle cx="1238.90" cy="248.75" r="4.6" fill="#ff7f00"/>
<text transform="translate(1277.50,260.25) scale(0.96,1)" font-size="31.2" text-anchor="start" >T385N/N387K</text>
<rect x="105.15" y="1064.22" width="35.7" height="273.28" fill="#999"/>
<rect x="145.20" y="1284.12" width="35.7" height="53.38" fill="#999"/>
<rect x="185.25" y="1284.12" width="35.7" height="53.38" fill="#999"/>
<rect x="225.30" y="1284.12" width="35.7" height="53.38" fill="#999"/>
<rect x="265.35" y="1284.12" width="35.7" height="53.38" fill="#999"/>
<rect x="305.40" y="1176.95" width="35.7" height="160.55" fill="#999"/>
<rect x="345.45" y="1284.12" width="35.7" height="53.38" fill="#999"/>
<rect x="385.50" y="1284.12" width="35.7" height="53.38" fill="#999"/>
<rect x="425.55" y="1120.16" width="35.7" height="217.34" fill="#999"/>
<rect x="465.60" y="1173.53" width="35.7" height="163.97" fill="#999"/>
<circle cx="123.00" cy="1038.60" r="5.2" fill="#000"/>
<circle cx="123.00" cy="1059.95" r="5.2" fill="#000"/>
<circle cx="123.00" cy="1091.97" r="5.2" fill="#000"/>
<circle cx="163.05" cy="1284.12" r="5.2" fill="#000"/>
<circle cx="203.10" cy="1284.12" r="5.2" fill="#000"/>
<circle cx="243.15" cy="1284.12" r="5.2" fill="#000"/>
<circle cx="283.20" cy="1284.12" r="5.2" fill="#000"/>
<circle cx="323.25" cy="1166.70" r="5.2" fill="#000"/>
<circle cx="323.25" cy="1198.72" r="5.2" fill="#000"/>
<circle cx="363.30" cy="1284.12" r="5.2" fill="#000"/>
<circle cx="403.35" cy="1284.12" r="5.2" fill="#000"/>
<circle cx="443.40" cy="1102.65" r="5.2" fill="#000"/>
<circle cx="443.40" cy="1113.33" r="5.2" fill="#000"/>
<circle cx="443.40" cy="1145.35" r="5.2" fill="#000"/>
<circle cx="483.45" cy="1166.70" r="5.2" fill="#000"/>
<circle cx="483.45" cy="1177.38" r="5.2" fill="#000"/>
<line x1="99.2" y1="1278" x2="508" y2="1278" stroke="#00ee00" stroke-width="3.6" stroke-dasharray="15.3 16.5"/>
<path d="M99.2,1022 V1352.0 H509" fill="none" stroke="#000" stroke-width="4.3"/>
<line x1="88.2" y1="1337.50" x2="99.2" y2="1337.50" stroke="#000" stroke-width="4.3"/>
<text transform="translate(77.70,1349.20) scale(0.96,1)" font-size="31.2" text-anchor="end" >0</text>
<line x1="88.2" y1="1252.10" x2="99.2" y2="1252.10" stroke="#000" stroke-width="4.3"/>
<text transform="translate(77.70,1263.80) scale(0.96,1)" font-size="31.2" text-anchor="end" >2</text>
<line x1="88.2" y1="1166.70" x2="99.2" y2="1166.70" stroke="#000" stroke-width="4.3"/>
<text transform="translate(77.70,1178.40) scale(0.96,1)" font-size="31.2" text-anchor="end" >4</text>
<line x1="88.2" y1="1081.30" x2="99.2" y2="1081.30" stroke="#000" stroke-width="4.3"/>
<text transform="translate(77.70,1093.00) scale(0.96,1)" font-size="31.2" text-anchor="end" >6</text>
<line x1="123.00" y1="1352.0" x2="123.00" y2="1363.0" stroke="#000" stroke-width="4.3"/>
<text transform="translate(133.70,1376.50) rotate(-90) scale(0.96,1)" font-size="31.2" text-anchor="end" >WT</text>
<line x1="163.05" y1="1352.0" x2="163.05" y2="1363.0" stroke="#000" stroke-width="4.3"/>
<text transform="translate(173.75,1376.50) rotate(-90) scale(0.96,1)" font-size="31.2" text-anchor="end" >mutant 1</text>
<line x1="203.10" y1="1352.0" x2="203.10" y2="1363.0" stroke="#000" stroke-width="4.3"/>
<text transform="translate(213.80,1376.50) rotate(-90) scale(0.96,1)" font-size="31.2" text-anchor="end" >mutant 2</text>
<line x1="243.15" y1="1352.0" x2="243.15" y2="1363.0" stroke="#000" stroke-width="4.3"/>
<text transform="translate(253.85,1376.50) rotate(-90) scale(0.96,1)" font-size="31.2" text-anchor="end" >mutant 3</text>
<line x1="283.20" y1="1352.0" x2="283.20" y2="1363.0" stroke="#000" stroke-width="4.3"/>
<text transform="translate(293.90,1376.50) rotate(-90) scale(0.96,1)" font-size="31.2" text-anchor="end" >mutant 4</text>
<line x1="323.25" y1="1352.0" x2="323.25" y2="1363.0" stroke="#000" stroke-width="4.3"/>
<text transform="translate(333.95,1376.50) rotate(-90) scale(0.96,1)" font-size="31.2" text-anchor="end" >mutant 5</text>
<line x1="363.30" y1="1352.0" x2="363.30" y2="1363.0" stroke="#000" stroke-width="4.3"/>
<text transform="translate(374.00,1376.50) rotate(-90) scale(0.96,1)" font-size="31.2" text-anchor="end" >mutant 6</text>
<line x1="403.35" y1="1352.0" x2="403.35" y2="1363.0" stroke="#000" stroke-width="4.3"/>
<text transform="translate(414.05,1376.50) rotate(-90) scale(0.96,1)" font-size="31.2" text-anchor="end" >mutant 7</text>
<line x1="443.40" y1="1352.0" x2="443.40" y2="1363.0" stroke="#000" stroke-width="4.3"/>
<text transform="translate(454.10,1376.50) rotate(-90) scale(0.96,1)" font-size="31.2" text-anchor="end" >mutant 8</text>
<line x1="483.45" y1="1352.0" x2="483.45" y2="1363.0" stroke="#000" stroke-width="4.3"/>
<text transform="translate(494.15,1376.50) rotate(-90) scale(0.96,1)" font-size="31.2" text-anchor="end" >mutant 9</text>
<text transform="translate(38.50,1188.50) rotate(-90) scale(0.95,1)" font-size="31.2" text-anchor="middle" >log<tspan font-size="20.59" dy="5.30">10</tspan><tspan dy="-5.30"> TCID</tspan><tspan font-size="20.59" dy="5.30">50</tspan><tspan dy="-5.30"></tspan></text>
<text transform="translate(546.50,1128.60) scale(0.9626,1)" font-size="31.1" text-anchor="start" >SD93 mutant 1: E248G/R249K/N387K</text>
<text transform="translate(546.50,1165.67) scale(0.9626,1)" font-size="31.1" text-anchor="start" >SD93 mutant 2: Y336N/N387K</text>
<text transform="translate(546.50,1202.74) scale(0.9626,1)" font-size="31.1" text-anchor="start" >SD93 mutant 3: R344E/N387K</text>
<text transform="translate(546.50,1239.81) scale(0.9626,1)" font-size="31.1" text-anchor="start" >SD93 mutant 4: E369K/N387K</text>
<text transform="translate(546.50,1276.88) scale(0.9626,1)" font-size="31.1" text-anchor="start" >SD93 mutant 5: E248G/R249K/Y336N/K344E/E369K/N387K</text>
<text transform="translate(546.50,1313.95) scale(0.9626,1)" font-size="31.1" text-anchor="start" >SD93 mutant 6: Y336H/N387K</text>
<text transform="translate(546.50,1351.02) scale(0.9626,1)" font-size="31.1" text-anchor="start" >SD93 mutant 7: E248G/R249K/Y336H/K344E/E369K/N387K</text>
<text transform="translate(546.50,1388.09) scale(0.9626,1)" font-size="31.1" text-anchor="start" >SD93 mutant 8: E248G/R249K/Y336N/K344E/E369K/K385N/N387K</text>
<text transform="translate(546.50,1425.16) scale(0.9626,1)" font-size="31.1" text-anchor="start" >SD93 mutant 9: E248G/R249K/Y336H/K344E/E369K/K385N/N387K</text>
<text transform="translate(859.12,575.20) scale(0.4342,0.9265)" font-size="100" fill="#00cc00" style="fill:#00cc00">G</text>
<text transform="translate(892.85,581.40) rotate(-90) scale(0.96,1)" font-size="31.2" text-anchor="end" >248</text>
<text transform="translate(887.76,576.10) scale(0.4536,0.9535)" font-size="100" fill="#0000cc" style="fill:#0000cc">K</text>
<text transform="translate(922.74,581.40) rotate(-90) scale(0.96,1)" font-size="31.2" text-anchor="end" >249</text>
<text transform="translate(920.12,547.60) scale(0.4976,0.5393)" font-size="100" fill="#00cc00" style="fill:#00cc00">T</text>
<text transform="translate(930.79,576.10) scale(0.3055,0.4012)" font-size="100" fill="#000" style="fill:#000">I</text>
<text transform="translate(952.63,581.40) rotate(-90) scale(0.96,1)" font-size="31.2" text-anchor="end" >265</text>
<text transform="translate(947.24,576.10) scale(0.4984,0.9535)" font-size="100" fill="#cc00cc" style="fill:#cc00cc">N</text>
<text transform="translate(982.52,581.40) rotate(-90) scale(0.96,1)" font-size="31.2" text-anchor="end" >336</text>
<text transform="translate(977.37,547.60) scale(0.4616,0.5393)" font-size="100" fill="#0000cc" style="fill:#0000cc">R</text>
<text transform="translate(976.64,576.10) scale(0.5709,0.4012)" font-size="100" fill="#000" style="fill:#000">L</text>
<text transform="translate(1012.41,581.40) rotate(-90) scale(0.96,1)" font-size="31.2" text-anchor="end" >338</text>
<text transform="translate(1007.15,547.60) scale(0.4778,0.5393)" font-size="100" fill="#cc0000" style="fill:#cc0000">D</text>
<text transform="translate(1007.02,576.10) scale(0.4984,0.4012)" font-size="100" fill="#cc00cc" style="fill:#cc00cc">N</text>
<text transform="translate(1042.30,581.40) rotate(-90) scale(0.96,1)" font-size="31.2" text-anchor="end" >339</text>
<text transform="translate(1036.75,576.10) scale(0.5222,0.9535)" font-size="100" fill="#cc0000" style="fill:#cc0000">E</text>
<text transform="translate(1072.19,581.40) rotate(-90) scale(0.96,1)" font-size="31.2" text-anchor="end" >344</text>
<text transform="translate(1068.72,565.23) scale(0.4890,0.7839)" font-size="100" fill="#00cc00" style="fill:#00cc00">S</text>
<text transform="translate(1068.35,575.97) scale(0.4342,0.1314)" font-size="100" fill="#00cc00" style="fill:#00cc00">G</text>
<text transform="translate(1102.08,581.40) rotate(-90) scale(0.96,1)" font-size="31.2" text-anchor="end" >346</text>
<text transform="translate(1096.99,576.10) scale(0.4536,0.9535)" font-size="100" fill="#0000cc" style="fill:#0000cc">K</text>
<text transform="translate(1131.97,581.40) rotate(-90) scale(0.96,1)" font-size="31.2" text-anchor="end" >369</text>
<text transform="translate(1128.13,556.16) scale(0.4342,0.6539)" font-size="100" fill="#00cc00" style="fill:#00cc00">G</text>
<text transform="translate(1126.42,576.10) scale(0.5222,0.2631)" font-size="100" fill="#cc0000" style="fill:#cc0000">E</text>
<text transform="translate(1161.86,581.40) rotate(-90) scale(0.96,1)" font-size="31.2" text-anchor="end" >381</text>
<text transform="translate(1156.77,576.10) scale(0.4536,0.9535)" font-size="100" fill="#0000cc" style="fill:#0000cc">K</text>
<text transform="translate(1191.75,581.40) rotate(-90) scale(0.96,1)" font-size="31.2" text-anchor="end" >387</text>
<rect x="1008.0" y="680.8" width="132.0" height="136.2" fill="#cdcdcd"/>
<line x1="1052.5" y1="637.5" x2="1080.8" y2="688.5" stroke="#000" stroke-width="4"/>
<clipPath id="dclip"><rect x="892.3" y="660" width="270" height="274.20000000000005"/></clipPath>
<g clip-path="url(#dclip)">
<g fill="#4d4d4d" fill-opacity="0.8"><circle cx="931.9" cy="764.5" r="2.6"/><circle cx="936.3" cy="814.0" r="2.6"/><circle cx="931.9" cy="818.7" r="2.6"/><circle cx="905.6" cy="823.5" r="2.6"/><circle cx="949.1" cy="826.8" r="2.6"/><circle cx="931.4" cy="827.6" r="2.6"/><circle cx="1030.4" cy="863.2" r="2.6"/><circle cx="1039.4" cy="879.3" r="2.6"/><circle cx="1004.8" cy="859.2" r="2.6"/><circle cx="999.7" cy="866.5" r="2.6"/><circle cx="992.6" cy="848.0" r="2.6"/><circle cx="984.4" cy="841.2" r="2.6"/><circle cx="991.2" cy="857.5" r="2.6"/><circle cx="1009.2" cy="882.0" r="2.6"/><circle cx="980.3" cy="849.4" r="2.6"/><circle cx="973.5" cy="849.4" r="2.6"/><circle cx="966.8" cy="853.5" r="2.6"/><circle cx="970.8" cy="861.6" r="2.6"/><circle cx="977.6" cy="857.5" r="2.6"/><circle cx="984.4" cy="869.8" r="2.6"/><circle cx="974.9" cy="871.1" r="2.6"/><circle cx="968.1" cy="871.1" r="2.6"/><circle cx="981.7" cy="892.9" r="2.6"/><circle cx="985.8" cy="884.7" r="2.6"/><circle cx="984.4" cy="880.7" r="2.6"/><circle cx="964.0" cy="901.0" r="2.6"/><circle cx="968.1" cy="841.2" r="2.6"/><circle cx="926.0" cy="837.1" r="2.6"/><circle cx="931.4" cy="833.1" r="2.6"/><circle cx="942.3" cy="838.5" r="2.6"/><circle cx="936.8" cy="843.9" r="2.6"/><circle cx="895.4" cy="920.1" r="2.6"/><circle cx="895.4" cy="906.4" r="2.6"/><circle cx="895.4" cy="898.4" r="2.6"/><circle cx="895.4" cy="892.7" r="2.6"/><circle cx="895.4" cy="888.3" r="2.6"/><circle cx="895.4" cy="884.7" r="2.6"/><circle cx="895.4" cy="881.7" r="2.6"/><circle cx="895.4" cy="879.1" r="2.6"/><circle cx="895.4" cy="876.7" r="2.6"/><circle cx="895.4" cy="874.7" r="2.6"/><circle cx="895.4" cy="872.8" r="2.6"/><circle cx="895.4" cy="871.1" r="2.6"/><circle cx="895.4" cy="869.5" r="2.6"/><circle cx="895.4" cy="866.7" r="2.6"/><circle cx="895.4" cy="865.4" r="2.6"/><circle cx="895.4" cy="864.2" r="2.6"/><circle cx="895.4" cy="862.0" r="2.6"/><circle cx="895.4" cy="861.0" r="2.6"/><circle cx="895.4" cy="859.1" r="2.6"/><circle cx="895.4" cy="857.4" r="2.6"/><circle cx="895.4" cy="856.6" r="2.6"/><circle cx="895.4" cy="855.8" r="2.6"/><circle cx="895.4" cy="855.1" r="2.6"/><circle cx="895.4" cy="853.7" r="2.6"/><circle cx="905.5" cy="932.3" r="2.6"/><circle cx="918.7" cy="932.3" r="2.6"/><circle cx="926.5" cy="932.3" r="2.6"/><circle cx="932.0" cy="932.3" r="2.6"/><circle cx="936.2" cy="932.3" r="2.6"/><circle cx="939.7" cy="932.3" r="2.6"/><circle cx="942.7" cy="932.3" r="2.6"/><circle cx="945.2" cy="932.3" r="2.6"/><circle cx="947.5" cy="932.3" r="2.6"/><circle cx="949.5" cy="932.3" r="2.6"/><circle cx="951.3" cy="932.3" r="2.6"/><circle cx="953.0" cy="932.3" r="2.6"/><circle cx="954.5" cy="932.3" r="2.6"/><circle cx="955.9" cy="932.3" r="2.6"/><circle cx="957.2" cy="932.3" r="2.6"/><circle cx="958.5" cy="932.3" r="2.6"/><circle cx="959.6" cy="932.3" r="2.6"/><circle cx="960.7" cy="932.3" r="2.6"/><circle cx="962.7" cy="932.3" r="2.6"/><circle cx="963.7" cy="932.3" r="2.6"/><circle cx="905.5" cy="920.1" r="2.6"/><circle cx="905.5" cy="906.4" r="2.6"/><circle cx="905.5" cy="898.4" r="2.6"/><circle cx="905.5" cy="892.7" r="2.6"/><circle cx="905.5" cy="888.3" r="2.6"/><circle cx="905.5" cy="884.7" r="2.6"/><circle cx="905.5" cy="881.7" r="2.6"/><circle cx="905.5" cy="879.1" r="2.6"/><circle cx="905.5" cy="876.7" r="2.6"/><circle cx="905.5" cy="874.7" r="2.6"/><circle cx="905.5" cy="872.8" r="2.6"/><circle cx="905.5" cy="871.1" r="2.6"/><circle cx="905.5" cy="869.5" r="2.6"/><circle cx="905.5" cy="868.0" r="2.6"/><circle cx="905.5" cy="866.7" r="2.6"/><circle cx="905.5" cy="865.4" r="2.6"/><circle cx="905.5" cy="864.2" r="2.6"/><circle cx="905.5" cy="863.1" r="2.6"/><circle cx="905.5" cy="862.0" r="2.6"/><circle cx="905.5" cy="861.0" r="2.6"/><circle cx="905.5" cy="860.0" r="2.6"/><circle cx="905.5" cy="859.1" r="2.6"/><circle cx="905.5" cy="858.2" r="2.6"/><circle cx="905.5" cy="857.4" r="2.6"/><circle cx="905.5" cy="856.6" r="2.6"/><circle cx="905.5" cy="855.8" r="2.6"/><circle cx="905.5" cy="855.1" r="2.6"/><circle cx="905.5" cy="854.4" r="2.6"/><circle cx="905.5" cy="853.7" r="2.6"/><circle cx="905.5" cy="853.0" r="2.6"/><circle cx="905.5" cy="852.4" r="2.6"/><circle cx="905.5" cy="851.7" r="2.6"/><circle cx="905.5" cy="851.1" r="2.6"/><circle cx="905.5" cy="850.5" r="2.6"/><circle cx="905.5" cy="850.0" r="2.6"/><circle cx="905.5" cy="849.4" r="2.6"/><circle cx="905.5" cy="848.9" r="2.6"/><circle cx="905.5" cy="848.3" r="2.6"/><circle cx="905.5" cy="847.8" r="2.6"/><circle cx="905.5" cy="847.3" r="2.6"/><circle cx="918.7" cy="920.1" r="2.6"/><circle cx="918.7" cy="906.4" r="2.6"/><circle cx="918.7" cy="898.4" r="2.6"/><circle cx="918.7" cy="892.7" r="2.6"/><circle cx="918.7" cy="888.3" r="2.6"/><circle cx="918.7" cy="884.7" r="2.6"/><circle cx="918.7" cy="881.7" r="2.6"/><circle cx="918.7" cy="879.1" r="2.6"/><circle cx="918.7" cy="876.7" r="2.6"/><circle cx="918.7" cy="874.7" r="2.6"/><circle cx="918.7" cy="872.8" r="2.6"/><circle cx="918.7" cy="871.1" r="2.6"/><circle cx="918.7" cy="869.5" r="2.6"/><circle cx="918.7" cy="868.0" r="2.6"/><circle cx="918.7" cy="866.7" r="2.6"/><circle cx="918.7" cy="865.4" r="2.6"/><circle cx="918.7" cy="864.2" r="2.6"/><circle cx="918.7" cy="863.1" r="2.6"/><circle cx="918.7" cy="862.0" r="2.6"/><circle cx="918.7" cy="861.0" r="2.6"/><circle cx="918.7" cy="860.0" r="2.6"/><circle cx="918.7" cy="859.1" r="2.6"/><circle cx="918.7" cy="858.2" r="2.6"/><circle cx="918.7" cy="857.4" r="2.6"/><circle cx="926.5" cy="920.1" r="2.6"/><circle cx="926.5" cy="906.4" r="2.6"/><circle cx="926.5" cy="898.4" r="2.6"/><circle cx="926.5" cy="892.7" r="2.6"/><circle cx="926.5" cy="888.3" r="2.6"/><circle cx="926.5" cy="884.7" r="2.6"/><circle cx="926.5" cy="881.7" r="2.6"/><circle cx="926.5" cy="879.1" r="2.6"/><circle cx="926.5" cy="871.1" r="2.6"/><circle cx="926.5" cy="869.5" r="2.6"/><circle cx="926.5" cy="868.0" r="2.6"/><circle cx="926.5" cy="866.7" r="2.6"/><circle cx="926.5" cy="864.2" r="2.6"/><circle cx="926.5" cy="863.1" r="2.6"/><circle cx="926.5" cy="860.0" r="2.6"/><circle cx="926.5" cy="858.2" r="2.6"/><circle cx="932.0" cy="920.1" r="2.6"/><circle cx="932.0" cy="906.4" r="2.6"/><circle cx="932.0" cy="898.4" r="2.6"/><circle cx="932.0" cy="892.7" r="2.6"/><circle cx="932.0" cy="888.3" r="2.6"/><circle cx="932.0" cy="884.7" r="2.6"/><circle cx="932.0" cy="881.7" r="2.6"/><circle cx="932.0" cy="879.1" r="2.6"/><circle cx="932.0" cy="866.7" r="2.6"/><circle cx="932.0" cy="863.1" r="2.6"/><circle cx="932.0" cy="862.0" r="2.6"/><circle cx="932.0" cy="861.0" r="2.6"/><circle cx="932.0" cy="860.0" r="2.6"/><circle cx="932.0" cy="853.7" r="2.6"/><circle cx="932.0" cy="853.0" r="2.6"/><circle cx="932.0" cy="852.4" r="2.6"/><circle cx="932.0" cy="851.7" r="2.6"/><circle cx="936.2" cy="920.1" r="2.6"/><circle cx="936.2" cy="906.4" r="2.6"/><circle cx="936.2" cy="898.4" r="2.6"/><circle cx="936.2" cy="892.7" r="2.6"/><circle cx="936.2" cy="888.3" r="2.6"/><circle cx="936.2" cy="884.7" r="2.6"/><circle cx="936.2" cy="881.7" r="2.6"/><circle cx="936.2" cy="879.1" r="2.6"/><circle cx="936.2" cy="872.8" r="2.6"/><circle cx="936.2" cy="869.5" r="2.6"/><circle cx="936.2" cy="861.0" r="2.6"/><circle cx="936.2" cy="860.0" r="2.6"/><circle cx="936.2" cy="859.1" r="2.6"/><circle cx="939.7" cy="920.1" r="2.6"/><circle cx="939.7" cy="906.4" r="2.6"/><circle cx="939.7" cy="898.4" r="2.6"/><circle cx="939.7" cy="892.7" r="2.6"/><circle cx="939.7" cy="888.3" r="2.6"/><circle cx="939.7" cy="884.7" r="2.6"/><circle cx="939.7" cy="881.7" r="2.6"/><circle cx="939.7" cy="879.1" r="2.6"/><circle cx="939.7" cy="876.7" r="2.6"/><circle cx="939.7" cy="874.7" r="2.6"/><circle cx="939.7" cy="863.1" r="2.6"/><circle cx="939.7" cy="862.0" r="2.6"/><circle cx="939.7" cy="861.0" r="2.6"/><circle cx="942.7" cy="920.1" r="2.6"/><circle cx="942.7" cy="906.4" r="2.6"/><circle cx="942.7" cy="898.4" r="2.6"/><circle cx="942.7" cy="892.7" r="2.6"/><circle cx="942.7" cy="888.3" r="2.6"/><circle cx="942.7" cy="884.7" r="2.6"/><circle cx="942.7" cy="881.7" r="2.6"/><circle cx="942.7" cy="879.1" r="2.6"/><circle cx="942.7" cy="865.4" r="2.6"/><circle cx="945.2" cy="920.1" r="2.6"/><circle cx="945.2" cy="906.4" r="2.6"/><circle cx="945.2" cy="898.4" r="2.6"/><circle cx="945.2" cy="892.7" r="2.6"/><circle cx="945.2" cy="888.3" r="2.6"/><circle cx="945.2" cy="884.7" r="2.6"/><circle cx="945.2" cy="881.7" r="2.6"/><circle cx="945.2" cy="879.1" r="2.6"/><circle cx="945.2" cy="876.7" r="2.6"/><circle cx="945.2" cy="869.5" r="2.6"/><circle cx="947.5" cy="920.1" r="2.6"/><circle cx="947.5" cy="906.4" r="2.6"/><circle cx="947.5" cy="892.7" r="2.6"/><circle cx="947.5" cy="888.3" r="2.6"/><circle cx="947.5" cy="884.7" r="2.6"/><circle cx="947.5" cy="881.7" r="2.6"/><circle cx="947.5" cy="879.1" r="2.6"/><circle cx="949.5" cy="892.7" r="2.6"/><circle cx="949.5" cy="888.3" r="2.6"/><circle cx="949.5" cy="884.7" r="2.6"/><circle cx="949.5" cy="881.7" r="2.6"/><circle cx="949.5" cy="879.1" r="2.6"/><circle cx="951.3" cy="920.1" r="2.6"/><circle cx="951.3" cy="906.4" r="2.6"/><circle cx="951.3" cy="892.7" r="2.6"/><circle cx="951.3" cy="888.3" r="2.6"/><circle cx="951.3" cy="884.7" r="2.6"/><circle cx="951.3" cy="881.7" r="2.6"/><circle cx="951.3" cy="879.1" r="2.6"/><circle cx="951.3" cy="874.7" r="2.6"/><circle cx="953.0" cy="898.4" r="2.6"/><circle cx="953.0" cy="892.7" r="2.6"/><circle cx="953.0" cy="888.3" r="2.6"/><circle cx="953.0" cy="884.7" r="2.6"/><circle cx="953.0" cy="881.7" r="2.6"/><circle cx="953.0" cy="879.1" r="2.6"/><circle cx="954.5" cy="898.4" r="2.6"/><circle cx="954.5" cy="892.7" r="2.6"/><circle cx="954.5" cy="888.3" r="2.6"/><circle cx="954.5" cy="884.7" r="2.6"/><circle cx="954.5" cy="881.7" r="2.6"/><circle cx="954.5" cy="879.1" r="2.6"/><circle cx="955.9" cy="920.1" r="2.6"/><circle cx="955.9" cy="892.7" r="2.6"/><circle cx="955.9" cy="888.3" r="2.6"/><circle cx="955.9" cy="884.7" r="2.6"/><circle cx="955.9" cy="881.7" r="2.6"/><circle cx="955.9" cy="879.1" r="2.6"/><circle cx="957.2" cy="892.7" r="2.6"/><circle cx="957.2" cy="888.3" r="2.6"/><circle cx="957.2" cy="884.7" r="2.6"/><circle cx="957.2" cy="881.7" r="2.6"/><circle cx="958.5" cy="920.1" r="2.6"/><circle cx="958.5" cy="906.4" r="2.6"/><circle cx="958.5" cy="892.7" r="2.6"/><circle cx="958.5" cy="888.3" r="2.6"/><circle cx="958.5" cy="884.7" r="2.6"/><circle cx="961.7" cy="861.0" r="2.6"/><circle cx="976.9" cy="860.0" r="2.6"/><circle cx="976.4" cy="856.6" r="2.6"/><circle cx="970.5" cy="888.3" r="2.6"/><circle cx="968.5" cy="892.7" r="2.6"/><circle cx="963.7" cy="865.4" r="2.6"/><circle cx="955.9" cy="872.8" r="2.6"/><circle cx="957.2" cy="854.4" r="2.6"/><circle cx="967.7" cy="888.3" r="2.6"/><circle cx="966.2" cy="888.3" r="2.6"/><circle cx="967.7" cy="853.0" r="2.6"/><circle cx="959.6" cy="864.2" r="2.6"/><circle cx="978.2" cy="865.4" r="2.6"/><circle cx="968.5" cy="859.1" r="2.6"/><circle cx="960.7" cy="892.7" r="2.6"/><circle cx="977.4" cy="856.6" r="2.6"/><circle cx="967.0" cy="884.7" r="2.6"/><circle cx="962.7" cy="872.8" r="2.6"/><circle cx="954.5" cy="879.1" r="2.6"/><circle cx="964.5" cy="871.1" r="2.6"/><circle cx="969.8" cy="862.0" r="2.6"/><circle cx="965.4" cy="871.1" r="2.6"/><circle cx="975.0" cy="862.0" r="2.6"/><circle cx="963.7" cy="872.8" r="2.6"/><circle cx="971.7" cy="854.4" r="2.6"/><circle cx="953.0" cy="898.4" r="2.6"/><circle cx="976.9" cy="861.0" r="2.6"/><circle cx="964.5" cy="862.0" r="2.6"/><circle cx="976.0" cy="874.7" r="2.6"/><circle cx="975.0" cy="884.7" r="2.6"/><circle cx="974.5" cy="857.4" r="2.6"/><circle cx="976.4" cy="861.0" r="2.6"/><circle cx="973.4" cy="862.0" r="2.6"/><circle cx="969.8" cy="856.6" r="2.6"/><circle cx="965.4" cy="874.7" r="2.6"/><circle cx="971.1" cy="876.7" r="2.6"/><circle cx="960.7" cy="866.7" r="2.6"/><circle cx="971.7" cy="892.7" r="2.6"/><circle cx="960.7" cy="898.4" r="2.6"/><circle cx="955.9" cy="858.2" r="2.6"/><circle cx="967.7" cy="865.4" r="2.6"/><circle cx="962.7" cy="892.7" r="2.6"/><circle cx="957.2" cy="857.4" r="2.6"/><circle cx="972.9" cy="853.0" r="2.6"/><circle cx="976.9" cy="857.4" r="2.6"/><circle cx="969.2" cy="859.1" r="2.6"/><circle cx="967.0" cy="856.6" r="2.6"/><circle cx="969.2" cy="892.7" r="2.6"/><circle cx="975.5" cy="879.1" r="2.6"/><circle cx="962.7" cy="872.8" r="2.6"/><circle cx="967.7" cy="868.0" r="2.6"/><circle cx="971.1" cy="861.0" r="2.6"/><circle cx="970.5" cy="874.7" r="2.6"/><circle cx="965.4" cy="868.0" r="2.6"/></g>
<g fill="#a52a2a" fill-opacity="0.66"><circle cx="1106.8" cy="691.1" r="2.6"/><circle cx="1019.2" cy="748.0" r="2.6"/><circle cx="961.9" cy="750.9" r="2.6"/><circle cx="1070.9" cy="765.4" r="2.6"/><circle cx="1126.4" cy="764.5" r="2.6"/><circle cx="974.1" cy="774.1" r="2.6"/><circle cx="989.9" cy="779.8" r="2.6"/><circle cx="1068.2" cy="784.4" r="2.6"/><circle cx="1011.1" cy="785.2" r="2.6"/><circle cx="1005.6" cy="790.9" r="2.6"/><circle cx="1024.9" cy="796.6" r="2.6"/><circle cx="1000.7" cy="797.7" r="2.6"/><circle cx="991.8" cy="802.3" r="2.6"/><circle cx="998.0" cy="806.7" r="2.6"/><circle cx="955.9" cy="810.2" r="2.6"/><circle cx="905.6" cy="810.5" r="2.6"/><circle cx="986.6" cy="810.8" r="2.6"/><circle cx="961.3" cy="816.2" r="2.6"/><circle cx="981.2" cy="814.0" r="2.6"/><circle cx="983.9" cy="816.8" r="2.6"/><circle cx="995.3" cy="818.7" r="2.6"/><circle cx="1016.0" cy="819.7" r="2.6"/><circle cx="1072.0" cy="820.8" r="2.6"/><circle cx="981.7" cy="820.8" r="2.6"/><circle cx="1090.2" cy="833.1" r="2.6"/><circle cx="1039.1" cy="839.3" r="2.6"/><circle cx="1029.8" cy="848.8" r="2.6"/><circle cx="1029.8" cy="857.5" r="2.6"/><circle cx="1034.7" cy="859.2" r="2.6"/><circle cx="1015.2" cy="873.0" r="2.6"/><circle cx="1022.5" cy="871.4" r="2.6"/><circle cx="1000.2" cy="879.3" r="2.6"/><circle cx="1002.6" cy="888.0" r="2.6"/><circle cx="1011.6" cy="888.3" r="2.6"/><circle cx="998.0" cy="892.9" r="2.6"/><circle cx="991.2" cy="898.3" r="2.6"/><circle cx="965.4" cy="827.6" r="2.6"/><circle cx="970.8" cy="830.3" r="2.6"/><circle cx="960.0" cy="827.6" r="2.6"/><circle cx="968.1" cy="838.5" r="2.6"/><circle cx="964.0" cy="834.4" r="2.6"/><circle cx="955.9" cy="835.8" r="2.6"/><circle cx="988.0" cy="837.4" r="2.6"/><circle cx="980.3" cy="864.3" r="2.6"/><circle cx="976.3" cy="857.5" r="2.6"/><circle cx="991.8" cy="865.7" r="2.6"/><circle cx="973.5" cy="886.1" r="2.6"/><circle cx="961.9" cy="892.9" r="2.6"/><circle cx="958.6" cy="880.7" r="2.6"/><circle cx="895.5" cy="740.6" r="2.6"/><circle cx="895.5" cy="800.4" r="2.6"/><circle cx="895.5" cy="846.7" r="2.6"/><circle cx="895.5" cy="871.1" r="2.6"/><circle cx="949.5" cy="932.3" r="2.6"/><circle cx="951.3" cy="932.3" r="2.6"/><circle cx="954.5" cy="932.3" r="2.6"/><circle cx="955.9" cy="932.3" r="2.6"/><circle cx="957.2" cy="932.3" r="2.6"/><circle cx="962.7" cy="932.3" r="2.6"/><circle cx="966.2" cy="932.3" r="2.6"/><circle cx="968.5" cy="932.3" r="2.6"/><circle cx="969.8" cy="932.3" r="2.6"/><circle cx="949.5" cy="920.1" r="2.6"/><circle cx="951.3" cy="920.1" r="2.6"/><circle cx="953.0" cy="920.1" r="2.6"/><circle cx="954.5" cy="920.1" r="2.6"/><circle cx="957.2" cy="920.1" r="2.6"/><circle cx="959.6" cy="920.1" r="2.6"/><circle cx="961.7" cy="920.1" r="2.6"/><circle cx="963.7" cy="920.1" r="2.6"/><circle cx="964.5" cy="920.1" r="2.6"/><circle cx="966.2" cy="920.1" r="2.6"/><circle cx="968.5" cy="920.1" r="2.6"/><circle cx="972.3" cy="920.1" r="2.6"/><circle cx="972.9" cy="920.1" r="2.6"/><circle cx="974.0" cy="920.1" r="2.6"/><circle cx="975.5" cy="920.1" r="2.6"/><circle cx="976.0" cy="920.1" r="2.6"/><circle cx="976.9" cy="920.1" r="2.6"/><circle cx="979.1" cy="920.1" r="2.6"/><circle cx="981.3" cy="920.1" r="2.6"/><circle cx="981.7" cy="920.1" r="2.6"/><circle cx="982.7" cy="920.1" r="2.6"/><circle cx="983.1" cy="920.1" r="2.6"/><circle cx="983.4" cy="920.1" r="2.6"/><circle cx="983.7" cy="920.1" r="2.6"/><circle cx="951.3" cy="906.4" r="2.6"/><circle cx="953.0" cy="906.4" r="2.6"/><circle cx="955.9" cy="906.4" r="2.6"/><circle cx="959.6" cy="906.4" r="2.6"/><circle cx="965.4" cy="906.4" r="2.6"/><circle cx="967.0" cy="906.4" r="2.6"/><circle cx="969.8" cy="906.4" r="2.6"/><circle cx="971.1" cy="906.4" r="2.6"/><circle cx="971.7" cy="906.4" r="2.6"/><circle cx="972.9" cy="906.4" r="2.6"/><circle cx="974.0" cy="906.4" r="2.6"/><circle cx="976.0" cy="906.4" r="2.6"/><circle cx="961.7" cy="898.4" r="2.6"/><circle cx="962.7" cy="898.4" r="2.6"/><circle cx="965.4" cy="898.4" r="2.6"/><circle cx="969.2" cy="898.4" r="2.6"/><circle cx="969.8" cy="898.4" r="2.6"/><circle cx="971.1" cy="898.4" r="2.6"/><circle cx="971.7" cy="898.4" r="2.6"/><circle cx="975.5" cy="898.4" r="2.6"/><circle cx="976.0" cy="898.4" r="2.6"/><circle cx="976.9" cy="898.4" r="2.6"/><circle cx="978.6" cy="898.4" r="2.6"/><circle cx="979.1" cy="898.4" r="2.6"/><circle cx="981.0" cy="898.4" r="2.6"/><circle cx="983.4" cy="898.4" r="2.6"/><circle cx="983.7" cy="898.4" r="2.6"/><circle cx="984.0" cy="898.4" r="2.6"/><circle cx="984.3" cy="898.4" r="2.6"/><circle cx="985.2" cy="898.4" r="2.6"/><circle cx="985.5" cy="898.4" r="2.6"/><circle cx="986.1" cy="898.4" r="2.6"/><circle cx="986.4" cy="898.4" r="2.6"/><circle cx="987.2" cy="898.4" r="2.6"/><circle cx="988.2" cy="898.4" r="2.6"/><circle cx="988.5" cy="898.4" r="2.6"/><circle cx="989.2" cy="898.4" r="2.6"/><circle cx="989.9" cy="898.4" r="2.6"/><circle cx="990.8" cy="898.4" r="2.6"/><circle cx="991.9" cy="898.4" r="2.6"/><circle cx="992.1" cy="898.4" r="2.6"/><circle cx="992.9" cy="898.4" r="2.6"/><circle cx="993.9" cy="898.4" r="2.6"/><circle cx="994.2" cy="898.4" r="2.6"/><circle cx="994.4" cy="898.4" r="2.6"/><circle cx="905.5" cy="884.7" r="2.6"/><circle cx="905.5" cy="876.7" r="2.6"/><circle cx="905.5" cy="872.8" r="2.6"/><circle cx="905.5" cy="861.0" r="2.6"/><circle cx="905.5" cy="860.0" r="2.6"/><circle cx="918.7" cy="881.7" r="2.6"/><circle cx="918.7" cy="879.1" r="2.6"/><circle cx="918.7" cy="871.1" r="2.6"/><circle cx="918.7" cy="869.5" r="2.6"/><circle cx="918.7" cy="859.1" r="2.6"/><circle cx="931.0" cy="847.9" r="2.6"/><circle cx="934.2" cy="854.1" r="2.6"/><circle cx="950.9" cy="850.0" r="2.6"/><circle cx="944.6" cy="876.6" r="2.6"/><circle cx="955.4" cy="860.3" r="2.6"/><circle cx="955.0" cy="863.4" r="2.6"/><circle cx="931.1" cy="855.6" r="2.6"/><circle cx="944.5" cy="865.1" r="2.6"/><circle cx="959.8" cy="835.1" r="2.6"/><circle cx="958.8" cy="845.5" r="2.6"/><circle cx="936.4" cy="877.1" r="2.6"/><circle cx="946.5" cy="860.6" r="2.6"/><circle cx="943.0" cy="858.4" r="2.6"/><circle cx="952.9" cy="848.2" r="2.6"/><circle cx="959.8" cy="854.0" r="2.6"/><circle cx="957.9" cy="861.3" r="2.6"/><circle cx="931.3" cy="859.8" r="2.6"/><circle cx="943.3" cy="862.6" r="2.6"/><circle cx="945.9" cy="850.3" r="2.6"/><circle cx="943.0" cy="858.3" r="2.6"/><circle cx="941.2" cy="848.9" r="2.6"/><circle cx="947.2" cy="864.4" r="2.6"/><circle cx="929.2" cy="860.0" r="2.6"/><circle cx="954.0" cy="855.9" r="2.6"/><circle cx="940.7" cy="860.7" r="2.6"/><circle cx="950.7" cy="837.5" r="2.6"/><circle cx="940.2" cy="861.3" r="2.6"/><circle cx="944.5" cy="847.0" r="2.6"/><circle cx="934.1" cy="849.0" r="2.6"/><circle cx="937.0" cy="873.5" r="2.6"/><circle cx="935.7" cy="849.9" r="2.6"/><circle cx="952.0" cy="857.5" r="2.6"/><circle cx="945.2" cy="861.1" r="2.6"/><circle cx="935.5" cy="857.7" r="2.6"/><circle cx="943.6" cy="864.7" r="2.6"/><circle cx="934.5" cy="856.1" r="2.6"/><circle cx="946.9" cy="861.1" r="2.6"/><circle cx="932.1" cy="867.9" r="2.6"/><circle cx="953.0" cy="865.1" r="2.6"/><circle cx="946.1" cy="859.8" r="2.6"/><circle cx="945.1" cy="857.1" r="2.6"/><circle cx="933.5" cy="864.0" r="2.6"/><circle cx="941.1" cy="864.3" r="2.6"/><circle cx="926.4" cy="852.7" r="2.6"/><circle cx="940.8" cy="853.2" r="2.6"/><circle cx="948.7" cy="854.9" r="2.6"/><circle cx="948.7" cy="843.7" r="2.6"/><circle cx="930.7" cy="859.7" r="2.6"/><circle cx="936.2" cy="842.3" r="2.6"/><circle cx="937.9" cy="856.1" r="2.6"/><circle cx="946.9" cy="855.8" r="2.6"/><circle cx="925.7" cy="864.5" r="2.6"/><circle cx="957.5" cy="849.3" r="2.6"/><circle cx="947.5" cy="845.6" r="2.6"/><circle cx="933.7" cy="854.8" r="2.6"/><circle cx="941.9" cy="869.7" r="2.6"/><circle cx="937.3" cy="863.7" r="2.6"/><circle cx="935.0" cy="865.4" r="2.6"/><circle cx="934.2" cy="849.6" r="2.6"/><circle cx="944.2" cy="861.4" r="2.6"/><circle cx="944.2" cy="854.3" r="2.6"/><circle cx="934.7" cy="864.0" r="2.6"/><circle cx="960.4" cy="853.2" r="2.6"/><circle cx="937.7" cy="841.9" r="2.6"/><circle cx="926.5" cy="868.5" r="2.6"/><circle cx="946.7" cy="859.1" r="2.6"/><circle cx="945.3" cy="862.3" r="2.6"/><circle cx="940.2" cy="869.3" r="2.6"/><circle cx="946.1" cy="876.1" r="2.6"/><circle cx="960.2" cy="867.8" r="2.6"/><circle cx="951.5" cy="848.8" r="2.6"/><circle cx="937.3" cy="842.7" r="2.6"/><circle cx="947.6" cy="851.6" r="2.6"/><circle cx="950.7" cy="866.7" r="2.6"/><circle cx="946.0" cy="871.6" r="2.6"/><circle cx="931.9" cy="858.6" r="2.6"/><circle cx="948.9" cy="848.8" r="2.6"/><circle cx="935.4" cy="867.5" r="2.6"/><circle cx="936.6" cy="859.6" r="2.6"/><circle cx="938.2" cy="855.7" r="2.6"/><circle cx="956.7" cy="851.5" r="2.6"/><circle cx="945.9" cy="847.3" r="2.6"/><circle cx="945.6" cy="852.9" r="2.6"/><circle cx="944.2" cy="844.9" r="2.6"/><circle cx="945.7" cy="875.3" r="2.6"/><circle cx="944.6" cy="866.4" r="2.6"/><circle cx="941.3" cy="849.8" r="2.6"/><circle cx="942.7" cy="849.8" r="2.6"/><circle cx="936.3" cy="855.4" r="2.6"/><circle cx="943.7" cy="849.4" r="2.6"/><circle cx="948.8" cy="861.6" r="2.6"/><circle cx="950.6" cy="854.7" r="2.6"/><circle cx="943.2" cy="845.1" r="2.6"/><circle cx="939.9" cy="861.7" r="2.6"/><circle cx="939.9" cy="857.2" r="2.6"/><circle cx="944.3" cy="846.6" r="2.6"/><circle cx="943.3" cy="854.5" r="2.6"/><circle cx="926.2" cy="869.4" r="2.6"/><circle cx="944.4" cy="854.0" r="2.6"/><circle cx="936.0" cy="858.4" r="2.6"/><circle cx="927.7" cy="868.7" r="2.6"/><circle cx="942.2" cy="858.9" r="2.6"/><circle cx="931.6" cy="870.3" r="2.6"/><circle cx="941.1" cy="855.5" r="2.6"/><circle cx="941.1" cy="855.2" r="2.6"/><circle cx="946.0" cy="857.9" r="2.6"/><circle cx="950.9" cy="875.6" r="2.6"/><circle cx="934.0" cy="852.4" r="2.6"/><circle cx="939.7" cy="860.8" r="2.6"/><circle cx="955.5" cy="855.5" r="2.6"/><circle cx="931.7" cy="856.8" r="2.6"/><circle cx="947.5" cy="872.6" r="2.6"/><circle cx="950.6" cy="847.2" r="2.6"/><circle cx="936.5" cy="866.5" r="2.6"/><circle cx="937.2" cy="867.3" r="2.6"/><circle cx="960.1" cy="852.4" r="2.6"/><circle cx="951.3" cy="865.1" r="2.6"/><circle cx="961.5" cy="855.8" r="2.6"/><circle cx="948.0" cy="872.1" r="2.6"/><circle cx="934.2" cy="851.1" r="2.6"/><circle cx="953.8" cy="861.8" r="2.6"/><circle cx="945.9" cy="853.6" r="2.6"/><circle cx="955.1" cy="850.5" r="2.6"/><circle cx="945.3" cy="855.4" r="2.6"/><circle cx="955.3" cy="843.1" r="2.6"/><circle cx="931.4" cy="849.6" r="2.6"/><circle cx="959.0" cy="865.4" r="2.6"/><circle cx="947.7" cy="849.3" r="2.6"/><circle cx="946.4" cy="852.4" r="2.6"/><circle cx="952.8" cy="853.7" r="2.6"/><circle cx="943.3" cy="876.4" r="2.6"/><circle cx="946.0" cy="866.2" r="2.6"/><circle cx="944.6" cy="860.5" r="2.6"/><circle cx="951.0" cy="862.6" r="2.6"/><circle cx="930.7" cy="867.2" r="2.6"/><circle cx="957.8" cy="849.4" r="2.6"/><circle cx="934.1" cy="878.2" r="2.6"/><circle cx="929.1" cy="873.7" r="2.6"/><circle cx="931.9" cy="867.8" r="2.6"/><circle cx="947.0" cy="846.7" r="2.6"/><circle cx="939.9" cy="859.1" r="2.6"/><circle cx="948.8" cy="860.2" r="2.6"/><circle cx="938.9" cy="853.3" r="2.6"/><circle cx="962.8" cy="861.4" r="2.6"/><circle cx="950.9" cy="837.6" r="2.6"/><circle cx="951.9" cy="870.9" r="2.6"/><circle cx="938.1" cy="865.9" r="2.6"/><circle cx="933.5" cy="850.5" r="2.6"/><circle cx="954.0" cy="872.6" r="2.6"/><circle cx="937.3" cy="865.1" r="2.6"/><circle cx="942.9" cy="847.5" r="2.6"/><circle cx="934.1" cy="848.7" r="2.6"/><circle cx="943.3" cy="857.1" r="2.6"/><circle cx="955.1" cy="858.9" r="2.6"/><circle cx="928.5" cy="853.1" r="2.6"/><circle cx="951.7" cy="875.9" r="2.6"/><circle cx="947.0" cy="867.7" r="2.6"/><circle cx="952.3" cy="853.8" r="2.6"/><circle cx="926.8" cy="858.3" r="2.6"/><circle cx="948.5" cy="856.5" r="2.6"/><circle cx="951.3" cy="862.1" r="2.6"/><circle cx="942.0" cy="862.0" r="2.6"/><circle cx="931.8" cy="872.8" r="2.6"/><circle cx="946.9" cy="857.2" r="2.6"/><circle cx="930.1" cy="868.4" r="2.6"/><circle cx="947.4" cy="854.3" r="2.6"/><circle cx="949.7" cy="863.5" r="2.6"/><circle cx="950.2" cy="875.1" r="2.6"/><circle cx="936.0" cy="873.2" r="2.6"/><circle cx="946.6" cy="838.4" r="2.6"/><circle cx="936.4" cy="863.0" r="2.6"/><circle cx="936.1" cy="845.0" r="2.6"/><circle cx="952.9" cy="864.3" r="2.6"/><circle cx="928.3" cy="856.1" r="2.6"/><circle cx="936.8" cy="863.0" r="2.6"/><circle cx="937.8" cy="852.9" r="2.6"/><circle cx="930.0" cy="849.4" r="2.6"/><circle cx="941.2" cy="848.7" r="2.6"/><circle cx="941.2" cy="840.1" r="2.6"/><circle cx="963.6" cy="851.7" r="2.6"/><circle cx="954.7" cy="860.3" r="2.6"/><circle cx="926.2" cy="860.0" r="2.6"/><circle cx="949.5" cy="862.7" r="2.6"/><circle cx="942.1" cy="867.9" r="2.6"/><circle cx="935.4" cy="850.8" r="2.6"/><circle cx="948.9" cy="850.4" r="2.6"/><circle cx="949.8" cy="854.2" r="2.6"/><circle cx="939.1" cy="845.8" r="2.6"/><circle cx="960.2" cy="875.3" r="2.6"/><circle cx="957.1" cy="868.2" r="2.6"/><circle cx="979.0" cy="816.1" r="2.6"/><circle cx="969.0" cy="822.9" r="2.6"/><circle cx="943.2" cy="846.4" r="2.6"/><circle cx="956.8" cy="844.2" r="2.6"/><circle cx="954.2" cy="839.0" r="2.6"/><circle cx="964.1" cy="830.3" r="2.6"/><circle cx="964.6" cy="839.0" r="2.6"/><circle cx="951.8" cy="858.4" r="2.6"/><circle cx="969.2" cy="830.9" r="2.6"/><circle cx="973.8" cy="812.3" r="2.6"/><circle cx="996.1" cy="809.3" r="2.6"/><circle cx="978.2" cy="821.4" r="2.6"/><circle cx="966.3" cy="827.8" r="2.6"/><circle cx="957.0" cy="842.8" r="2.6"/><circle cx="950.8" cy="844.2" r="2.6"/><circle cx="990.5" cy="809.9" r="2.6"/><circle cx="976.4" cy="818.3" r="2.6"/><circle cx="964.4" cy="837.6" r="2.6"/><circle cx="960.3" cy="839.0" r="2.6"/><circle cx="939.2" cy="862.0" r="2.6"/><circle cx="970.8" cy="821.3" r="2.6"/><circle cx="952.7" cy="829.3" r="2.6"/></g>
</g>
<path d="M894.5,667 V932.0 H1154.5" fill="none" stroke="#000" stroke-width="4.3"/>
<line x1="883.5" y1="680.80" x2="894.5" y2="680.80" stroke="#000" stroke-width="4.3"/>
<text transform="translate(873.00,692.50) scale(0.96,1)" font-size="31.2" text-anchor="end" >0</text>
<line x1="1140.00" y1="932.0" x2="1140.00" y2="943.0" stroke="#000" stroke-width="4.3"/>
<text transform="translate(1140.00,975.70) scale(0.96,1)" font-size="31.2" text-anchor="middle" >0</text>
<line x1="883.5" y1="771.60" x2="894.5" y2="771.60" stroke="#000" stroke-width="4.3"/>
<text transform="translate(873.00,783.30) scale(0.96,1)" font-size="31.2" text-anchor="end" >-2</text>
<line x1="1052.00" y1="932.0" x2="1052.00" y2="943.0" stroke="#000" stroke-width="4.3"/>
<text transform="translate(1052.00,975.70) scale(0.96,1)" font-size="31.2" text-anchor="middle" >-2</text>
<line x1="883.5" y1="862.40" x2="894.5" y2="862.40" stroke="#000" stroke-width="4.3"/>
<text transform="translate(873.00,874.10) scale(0.96,1)" font-size="31.2" text-anchor="end" >-4</text>
<line x1="964.00" y1="932.0" x2="964.00" y2="943.0" stroke="#000" stroke-width="4.3"/>
<text transform="translate(964.00,975.70) scale(0.96,1)" font-size="31.2" text-anchor="middle" >-4</text>
<text transform="translate(1023.00,1013.50) scale(0.945,1)" font-size="31.2" text-anchor="middle" >log<tspan font-size="20.59" dy="5.30">10</tspan><tspan dy="-5.30"> freq (Rep 1)</tspan></text>
<text transform="translate(822.50,799.00) rotate(-90) scale(0.945,1)" font-size="31.2" text-anchor="middle" >log<tspan font-size="20.59" dy="5.30">10</tspan><tspan dy="-5.30"> freq (Rep 2)</tspan></text>
<circle cx="1205.3" cy="798.2" r="3" fill="#a52a2a" fill-opacity="0.72"/>
<circle cx="1205.3" cy="825.7" r="3" fill="#4d4d4d" fill-opacity="0.7"/>
<text transform="translate(1221.00,808.70) scale(0.96,1)" font-size="31.2" text-anchor="start" >with Y336N</text>
<text transform="translate(1221.00,835.90) scale(0.96,1)" font-size="31.2" text-anchor="start" >without Y336N</text>
</svg>
</body></html>
